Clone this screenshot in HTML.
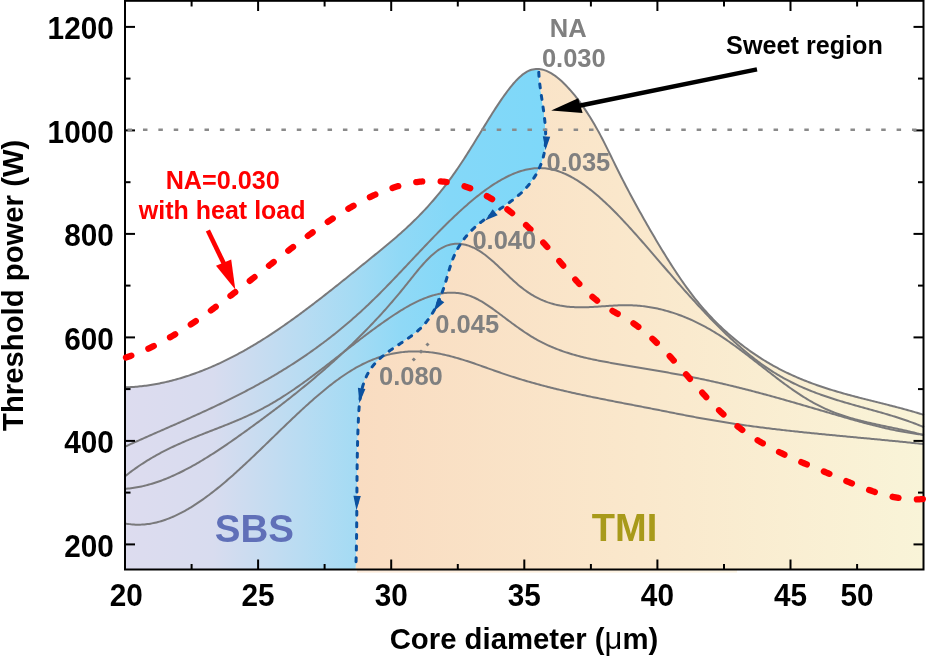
<!DOCTYPE html>
<html><head><meta charset="utf-8"><style>
html,body{margin:0;padding:0;background:#fff;}
svg{display:block;will-change:transform;}
text{font-family:"Liberation Sans",sans-serif;font-weight:bold;}
</style></head><body>
<svg width="926" height="656" viewBox="0 0 926 656">
<defs>
<linearGradient id="gS" gradientUnits="userSpaceOnUse" x1="125" y1="0" x2="545" y2="0">
<stop offset="0" stop-color="#dddcef"/><stop offset="0.21" stop-color="#d8dcef"/><stop offset="0.298" stop-color="#cbdcf0"/><stop offset="0.417" stop-color="#b9dcf2"/><stop offset="0.55" stop-color="#a4dbf4"/><stop offset="0.655" stop-color="#90d9f6"/><stop offset="0.774" stop-color="#84d8f8"/><stop offset="1" stop-color="#7ed8f9"/>
</linearGradient>
<linearGradient id="gT" gradientUnits="userSpaceOnUse" x1="356" y1="0" x2="924" y2="0">
<stop offset="0" stop-color="#f9dcc1"/><stop offset="0.5" stop-color="#fae8cc"/><stop offset="1" stop-color="#f9f4d8"/>
</linearGradient>
</defs>
<rect width="926" height="656" fill="#fff"/>
<path d="M125.00,387.35 126.50,387.30 128.00,387.24 129.50,387.17 131.00,387.09 132.50,387.00 134.00,386.89 135.50,386.78 137.00,386.65 138.50,386.51 140.00,386.36 141.50,386.20 143.00,386.02 144.50,385.84 146.00,385.65 147.50,385.44 149.00,385.22 150.50,384.99 152.00,384.75 153.50,384.50 155.00,384.24 156.50,383.97 158.00,383.69 159.50,383.40 161.00,383.09 162.50,382.78 164.00,382.45 165.50,382.12 167.00,381.77 168.50,381.41 170.00,381.05 171.50,380.67 173.00,380.28 174.50,379.88 176.00,379.47 177.50,379.05 179.00,378.62 180.50,378.18 182.00,377.73 183.50,377.27 185.00,376.80 186.50,376.32 188.00,375.83 189.50,375.33 191.00,374.82 192.50,374.30 194.00,373.77 195.50,373.23 197.00,372.68 198.50,372.12 200.00,371.56 201.50,370.98 203.00,370.39 204.50,369.79 206.00,369.18 207.50,368.57 209.00,367.94 210.50,367.31 212.00,366.66 213.50,366.01 215.00,365.34 216.50,364.67 218.00,363.99 219.50,363.30 221.00,362.59 222.50,361.88 224.00,361.17 225.50,360.44 227.00,359.70 228.50,358.96 230.00,358.20 231.50,357.44 233.00,356.66 234.50,355.88 236.00,355.09 237.50,354.29 239.00,353.49 240.50,352.67 242.00,351.85 243.50,351.01 245.00,350.17 246.50,349.32 248.00,348.46 249.50,347.59 251.00,346.72 252.50,345.83 254.00,344.94 255.50,344.04 257.00,343.13 258.50,342.22 260.00,341.29 261.50,340.36 263.00,339.42 264.50,338.47 266.00,337.51 267.50,336.55 269.00,335.57 270.50,334.59 272.00,333.61 273.50,332.61 275.00,331.61 276.50,330.60 278.00,329.59 279.50,328.57 281.00,327.54 282.50,326.50 284.00,325.46 285.50,324.41 287.00,323.36 288.50,322.30 290.00,321.23 291.50,320.16 293.00,319.08 294.50,318.00 296.00,316.91 297.50,315.82 299.00,314.72 300.50,313.61 302.00,312.50 303.50,311.39 305.00,310.27 306.50,309.14 308.00,308.02 309.50,306.88 311.00,305.75 312.50,304.60 314.00,303.46 315.50,302.31 317.00,301.16 318.50,300.00 320.00,298.84 321.50,297.67 323.00,296.51 324.50,295.34 326.00,294.16 327.50,292.98 329.00,291.80 330.50,290.62 332.00,289.44 333.50,288.25 335.00,287.06 336.50,285.87 338.00,284.67 339.50,283.47 341.00,282.27 342.50,281.07 344.00,279.87 345.50,278.66 347.00,277.46 348.50,276.25 350.00,275.04 351.50,273.83 353.00,272.62 354.50,271.41 356.00,270.20 357.50,268.98 359.00,267.77 360.50,266.55 362.00,265.34 363.50,264.12 365.00,262.91 366.50,261.69 368.00,260.48 369.50,259.26 371.00,258.05 372.50,256.83 374.00,255.62 375.50,254.40 377.00,253.18 378.50,251.96 380.00,250.74 381.50,249.51 383.00,248.28 384.50,247.04 386.00,245.80 387.50,244.55 389.00,243.29 390.50,242.03 392.00,240.76 393.50,239.48 395.00,238.19 396.50,236.90 398.00,235.59 399.50,234.27 401.00,232.94 402.50,231.59 404.00,230.24 405.50,228.87 407.00,227.49 408.50,226.09 410.00,224.68 411.50,223.25 413.00,221.80 414.50,220.34 416.00,218.86 417.50,217.36 419.00,215.85 420.50,214.31 422.00,212.76 423.50,211.18 425.00,209.58 426.50,207.96 428.00,206.32 429.50,204.65 431.00,202.96 432.50,201.25 434.00,199.51 435.50,197.75 437.00,195.96 438.50,194.14 440.00,192.30 441.50,190.43 443.00,188.53 444.50,186.60 446.00,184.65 447.50,182.67 449.00,180.66 450.50,178.62 452.00,176.55 453.50,174.45 455.00,172.32 456.50,170.16 458.00,167.98 459.50,165.76 461.00,163.51 462.50,161.23 464.00,158.93 465.50,156.60 467.00,154.25 468.50,151.88 470.00,149.49 471.50,147.08 473.00,144.66 474.50,142.24 476.00,139.80 477.50,137.35 479.00,134.91 480.50,132.46 482.00,130.01 483.50,127.56 485.00,125.12 486.50,122.69 488.00,120.26 489.50,117.85 491.00,115.46 492.50,113.09 494.00,110.74 495.50,108.41 497.00,106.11 498.50,103.84 500.00,101.60 501.50,99.40 503.00,97.24 504.50,95.12 506.00,93.05 507.50,91.02 509.00,89.04 510.50,87.13 512.00,85.28 513.50,83.50 515.00,81.80 516.50,80.18 518.00,78.66 519.50,77.22 521.00,75.89 522.50,74.66 524.00,73.55 525.50,72.55 527.00,71.67 528.50,70.93 530.00,70.31 531.50,69.81 533.00,69.43 534.50,69.17 536.00,69.02 537.50,68.98 L538.70,69.74 538.73,71.08 538.79,72.43 538.85,73.80 538.94,75.18 539.04,76.58 539.15,77.98 539.28,79.40 539.42,80.82 539.58,82.26 539.74,83.71 539.91,85.17 540.10,86.63 540.29,88.11 540.49,89.59 540.70,91.08 540.91,92.58 541.13,94.09 541.35,95.60 541.58,97.12 541.81,98.64 542.04,100.17 542.27,101.70 542.50,103.24 542.72,104.78 542.95,106.33 543.17,107.87 543.39,109.43 543.61,110.98 543.82,112.53 544.02,114.09 544.21,115.64 544.40,117.20 544.58,118.76 544.75,120.31 544.90,121.87 545.05,123.42 545.18,124.97 545.30,126.52 545.40,128.07 545.49,129.61 545.56,131.15 545.62,132.69 545.66,134.22 545.67,135.75 545.67,137.27 545.65,138.78 545.61,140.29 545.54,141.80 545.45,143.29 545.34,144.78 545.20,146.26 545.03,147.73 544.84,149.19 544.62,150.64 544.37,152.09 544.10,153.52 543.79,154.94 543.45,156.35 543.09,157.75 542.69,159.14 542.27,160.52 541.82,161.89 541.34,163.25 540.83,164.59 540.29,165.92 539.73,167.24 539.14,168.55 538.53,169.85 537.89,171.13 537.22,172.40 536.53,173.66 535.81,174.91 535.07,176.14 534.30,177.36 533.51,178.57 532.70,179.76 531.86,180.94 531.00,182.11 530.11,183.26 529.20,184.40 528.27,185.52 527.32,186.63 526.35,187.73 525.35,188.81 524.34,189.88 523.30,190.93 522.24,191.96 521.16,192.98 520.06,193.99 518.95,194.98 517.81,195.96 516.66,196.92 515.49,197.87 514.30,198.81 513.10,199.74 511.89,200.65 510.66,201.56 509.43,202.46 508.18,203.36 506.92,204.24 505.66,205.12 504.39,206.00 503.11,206.87 501.82,207.74 500.53,208.60 499.24,209.47 497.95,210.33 496.65,211.20 495.36,212.06 494.06,212.93 492.77,213.80 491.48,214.67 490.19,215.55 488.91,216.44 487.63,217.33 486.36,218.22 485.10,219.13 483.85,220.04 482.61,220.96 481.38,221.90 480.17,222.84 478.97,223.80 477.79,224.76 476.62,225.75 475.47,226.74 474.34,227.76 473.23,228.79 472.14,229.83 471.07,230.90 470.03,231.98 469.01,233.07 468.01,234.18 467.03,235.31 466.07,236.45 465.14,237.61 464.23,238.78 463.34,239.97 462.48,241.17 461.64,242.38 460.82,243.60 460.02,244.84 459.25,246.08 458.50,247.34 457.77,248.61 457.07,249.89 456.39,251.18 455.73,252.48 455.10,253.78 454.49,255.10 453.91,256.42 453.34,257.75 452.81,259.09 452.29,260.44 451.79,261.79 451.32,263.15 450.86,264.51 450.41,265.87 449.98,267.25 449.55,268.62 449.14,270.00 448.73,271.38 448.33,272.77 447.93,274.16 447.53,275.54 447.13,276.93 446.73,278.33 446.32,279.72 445.91,281.11 445.48,282.50 445.05,283.89 444.61,285.28 444.16,286.67 443.70,288.05 443.23,289.43 442.75,290.81 442.26,292.19 441.76,293.56 441.24,294.92 440.71,296.28 440.17,297.64 439.62,298.99 439.04,300.33 438.46,301.66 437.86,302.99 437.24,304.31 436.60,305.62 435.95,306.92 435.28,308.21 434.60,309.49 433.89,310.76 433.16,312.02 432.42,313.26 431.65,314.50 430.87,315.72 430.06,316.93 429.23,318.12 428.38,319.30 427.50,320.47 426.61,321.62 425.68,322.76 424.74,323.88 423.77,324.98 422.77,326.07 421.75,327.13 420.70,328.19 419.62,329.22 418.51,330.23 417.38,331.23 416.23,332.20 415.05,333.17 413.85,334.12 412.64,335.05 411.40,335.98 410.15,336.89 408.89,337.80 407.61,338.69 406.32,339.58 405.03,340.46 403.72,341.34 402.41,342.22 401.10,343.09 399.78,343.96 398.46,344.83 397.15,345.70 395.83,346.58 394.53,347.45 393.22,348.34 391.93,349.23 390.64,350.12 389.37,351.03 388.11,351.94 386.86,352.86 385.63,353.79 384.41,354.74 383.22,355.70 382.05,356.67 380.90,357.65 379.77,358.65 378.68,359.66 377.61,360.69 376.57,361.73 375.56,362.79 374.58,363.87 373.64,364.97 372.73,366.09 371.86,367.22 371.03,368.38 370.23,369.55 369.47,370.75 368.74,371.96 368.05,373.18 367.38,374.43 366.75,375.69 366.15,376.96 365.57,378.25 365.03,379.56 364.52,380.87 364.03,382.21 363.57,383.55 363.13,384.91 362.72,386.28 362.34,387.66 361.98,389.05 361.64,390.46 361.32,391.87 361.03,393.29 360.76,394.72 360.50,396.16 360.27,397.61 360.05,399.07 359.85,400.53 359.67,402.00 359.50,403.48 359.35,404.96 359.21,406.45 359.08,407.94 358.97,409.44 358.86,410.94 358.77,412.44 358.68,413.94 358.60,415.45 358.52,416.96 358.45,418.47 358.38,419.98 358.31,421.49 358.25,423.01 358.18,424.52 358.12,426.03 358.06,427.55 358.01,429.06 357.95,430.57 357.90,432.09 357.85,433.60 357.80,435.12 357.75,436.63 357.71,438.15 357.67,439.66 357.62,441.18 357.58,442.70 357.55,444.21 357.51,445.73 357.47,447.24 357.44,448.76 357.41,450.28 357.38,451.79 357.35,453.31 357.32,454.83 357.29,456.34 357.26,457.86 357.24,459.38 357.22,460.89 357.19,462.41 357.17,463.93 357.15,465.44 357.13,466.96 357.12,468.48 357.10,469.99 357.08,471.51 357.07,473.02 357.05,474.54 357.04,476.05 357.02,477.57 357.01,479.08 357.00,480.60 356.99,482.11 356.97,483.63 356.96,485.14 356.95,486.65 356.94,488.17 356.93,489.68 356.92,491.19 356.92,492.70 356.91,494.22 356.90,495.73 356.89,497.24 356.88,498.75 356.87,500.26 356.86,501.77 356.86,503.27 356.85,504.78 356.84,506.29 356.83,507.80 356.82,509.30 356.81,510.81 356.80,512.31 356.79,513.82 356.78,515.32 356.77,516.82 356.76,518.33 356.75,519.83 356.74,521.33 356.72,522.83 356.71,524.33 356.70,525.83 356.68,527.32 356.67,528.82 356.65,530.32 356.63,531.81 356.61,533.31 356.59,534.80 356.57,536.29 356.55,537.78 356.53,539.27 356.51,540.76 356.48,542.25 356.46,543.74 356.43,545.23 356.40,546.71 356.37,548.20 356.34,549.68 356.31,551.16 356.28,552.64 356.24,554.12 356.21,555.60 356.17,557.08 356.13,558.56 356.09,560.03 356.04,561.51 356.00,562.98 355.95,564.45 355.90,565.92 355.85,567.39 355.80,568.86 355.79,569.29 L125,569.5 Z" fill="url(#gS)"/>
<path d="M539.00,69.05 540.50,69.22 542.00,69.50 543.50,69.87 545.00,70.35 546.50,70.91 548.00,71.57 549.50,72.32 551.00,73.15 552.50,74.06 554.00,75.05 555.50,76.12 557.00,77.26 558.50,78.47 560.00,79.75 561.50,81.10 563.00,82.51 564.50,83.97 566.00,85.50 567.50,87.07 569.00,88.70 570.50,90.38 572.00,92.12 573.50,93.90 575.00,95.74 576.50,97.63 578.00,99.58 579.50,101.57 581.00,103.63 582.50,105.73 584.00,107.89 585.50,110.11 587.00,112.38 588.50,114.71 590.00,117.09 591.50,119.53 593.00,122.03 594.50,124.59 596.00,127.20 597.50,129.87 599.00,132.60 600.50,135.38 602.00,138.23 603.50,141.13 605.00,144.09 606.50,147.09 608.00,150.13 609.50,153.19 611.00,156.27 612.50,159.35 614.00,162.43 615.50,165.49 617.00,168.53 618.50,171.54 620.00,174.52 621.50,177.48 623.00,180.41 624.50,183.31 626.00,186.19 627.50,189.04 629.00,191.88 630.50,194.69 632.00,197.48 633.50,200.24 635.00,203.00 636.50,205.73 638.00,208.44 639.50,211.14 641.00,213.82 642.50,216.49 644.00,219.14 645.50,221.78 647.00,224.41 648.50,227.02 650.00,229.63 651.50,232.22 653.00,234.79 654.50,237.36 656.00,239.90 657.50,242.44 659.00,244.95 660.50,247.45 662.00,249.93 663.50,252.39 665.00,254.83 666.50,257.25 668.00,259.65 669.50,262.03 671.00,264.38 672.50,266.72 674.00,269.03 675.50,271.31 677.00,273.58 678.50,275.81 680.00,278.02 681.50,280.20 683.00,282.36 684.50,284.48 686.00,286.58 687.50,288.64 689.00,290.68 690.50,292.69 692.00,294.66 693.50,296.60 695.00,298.51 696.50,300.38 698.00,302.23 699.50,304.04 701.00,305.83 702.50,307.58 704.00,309.30 705.50,311.00 707.00,312.67 708.50,314.31 710.00,315.93 711.50,317.52 713.00,319.08 714.50,320.62 716.00,322.13 717.50,323.62 719.00,325.09 720.50,326.54 722.00,327.96 723.50,329.36 725.00,330.74 726.50,332.10 728.00,333.44 729.50,334.76 731.00,336.06 732.50,337.35 734.00,338.61 735.50,339.85 737.00,341.08 738.50,342.29 740.00,343.48 741.50,344.65 743.00,345.81 744.50,346.95 746.00,348.07 747.50,349.17 749.00,350.26 750.50,351.33 752.00,352.38 753.50,353.42 755.00,354.44 756.50,355.45 758.00,356.44 759.50,357.41 761.00,358.37 762.50,359.32 764.00,360.25 765.50,361.16 767.00,362.07 768.50,362.95 770.00,363.82 771.50,364.68 773.00,365.53 774.50,366.36 776.00,367.18 777.50,367.98 779.00,368.77 780.50,369.55 782.00,370.32 783.50,371.08 785.00,371.82 786.50,372.55 788.00,373.27 789.50,373.98 791.00,374.67 792.50,375.36 794.00,376.03 795.50,376.69 797.00,377.35 798.50,377.99 800.00,378.62 801.50,379.24 803.00,379.86 804.50,380.46 806.00,381.05 807.50,381.64 809.00,382.21 810.50,382.78 812.00,383.34 813.50,383.89 815.00,384.43 816.50,384.97 818.00,385.49 819.50,386.01 821.00,386.52 822.50,387.02 824.00,387.52 825.50,388.01 827.00,388.49 828.50,388.97 830.00,389.44 831.50,389.91 833.00,390.37 834.50,390.82 836.00,391.27 837.50,391.71 839.00,392.15 840.50,392.58 842.00,393.01 843.50,393.43 845.00,393.85 846.50,394.27 848.00,394.68 849.50,395.08 851.00,395.49 852.50,395.89 854.00,396.29 855.50,396.68 857.00,397.07 858.50,397.46 860.00,397.85 861.50,398.24 863.00,398.62 864.50,399.00 866.00,399.38 867.50,399.76 869.00,400.14 870.50,400.51 872.00,400.89 873.50,401.26 875.00,401.64 876.50,402.01 878.00,402.39 879.50,402.76 881.00,403.14 882.50,403.51 884.00,403.89 885.50,404.27 887.00,404.65 888.50,405.03 890.00,405.41 891.50,405.80 893.00,406.18 894.50,406.57 896.00,406.96 897.50,407.35 899.00,407.75 900.50,408.15 902.00,408.55 903.50,408.96 905.00,409.36 906.50,409.78 908.00,410.19 909.50,410.61 911.00,411.04 912.50,411.47 914.00,411.90 915.50,412.34 917.00,412.79 918.50,413.24 920.00,413.69 921.50,414.15 923.00,414.62 924.00,414.94 L924,569.5 L355.79,569.29 355.80,568.86 355.85,567.39 355.90,565.92 355.95,564.45 356.00,562.98 356.04,561.51 356.09,560.03 356.13,558.56 356.17,557.08 356.21,555.60 356.24,554.12 356.28,552.64 356.31,551.16 356.34,549.68 356.37,548.20 356.40,546.71 356.43,545.23 356.46,543.74 356.48,542.25 356.51,540.76 356.53,539.27 356.55,537.78 356.57,536.29 356.59,534.80 356.61,533.31 356.63,531.81 356.65,530.32 356.67,528.82 356.68,527.32 356.70,525.83 356.71,524.33 356.72,522.83 356.74,521.33 356.75,519.83 356.76,518.33 356.77,516.82 356.78,515.32 356.79,513.82 356.80,512.31 356.81,510.81 356.82,509.30 356.83,507.80 356.84,506.29 356.85,504.78 356.86,503.27 356.86,501.77 356.87,500.26 356.88,498.75 356.89,497.24 356.90,495.73 356.91,494.22 356.92,492.70 356.92,491.19 356.93,489.68 356.94,488.17 356.95,486.65 356.96,485.14 356.97,483.63 356.99,482.11 357.00,480.60 357.01,479.08 357.02,477.57 357.04,476.05 357.05,474.54 357.07,473.02 357.08,471.51 357.10,469.99 357.12,468.48 357.13,466.96 357.15,465.44 357.17,463.93 357.19,462.41 357.22,460.89 357.24,459.38 357.26,457.86 357.29,456.34 357.32,454.83 357.35,453.31 357.38,451.79 357.41,450.28 357.44,448.76 357.47,447.24 357.51,445.73 357.55,444.21 357.58,442.70 357.62,441.18 357.67,439.66 357.71,438.15 357.75,436.63 357.80,435.12 357.85,433.60 357.90,432.09 357.95,430.57 358.01,429.06 358.06,427.55 358.12,426.03 358.18,424.52 358.25,423.01 358.31,421.49 358.38,419.98 358.45,418.47 358.52,416.96 358.60,415.45 358.68,413.94 358.77,412.44 358.86,410.94 358.97,409.44 359.08,407.94 359.21,406.45 359.35,404.96 359.50,403.48 359.67,402.00 359.85,400.53 360.05,399.07 360.27,397.61 360.50,396.16 360.76,394.72 361.03,393.29 361.32,391.87 361.64,390.46 361.98,389.05 362.34,387.66 362.72,386.28 363.13,384.91 363.57,383.55 364.03,382.21 364.52,380.87 365.03,379.56 365.57,378.25 366.15,376.96 366.75,375.69 367.38,374.43 368.05,373.18 368.74,371.96 369.47,370.75 370.23,369.55 371.03,368.38 371.86,367.22 372.73,366.09 373.64,364.97 374.58,363.87 375.56,362.79 376.57,361.73 377.61,360.69 378.68,359.66 379.77,358.65 380.90,357.65 382.05,356.67 383.22,355.70 384.41,354.74 385.63,353.79 386.86,352.86 388.11,351.94 389.37,351.03 390.64,350.12 391.93,349.23 393.22,348.34 394.53,347.45 395.83,346.58 397.15,345.70 398.46,344.83 399.78,343.96 401.10,343.09 402.41,342.22 403.72,341.34 405.03,340.46 406.32,339.58 407.61,338.69 408.89,337.80 410.15,336.89 411.40,335.98 412.64,335.05 413.85,334.12 415.05,333.17 416.23,332.20 417.38,331.23 418.51,330.23 419.62,329.22 420.70,328.19 421.75,327.13 422.77,326.07 423.77,324.98 424.74,323.88 425.68,322.76 426.61,321.62 427.50,320.47 428.38,319.30 429.23,318.12 430.06,316.93 430.87,315.72 431.65,314.50 432.42,313.26 433.16,312.02 433.89,310.76 434.60,309.49 435.28,308.21 435.95,306.92 436.60,305.62 437.24,304.31 437.86,302.99 438.46,301.66 439.04,300.33 439.62,298.99 440.17,297.64 440.71,296.28 441.24,294.92 441.76,293.56 442.26,292.19 442.75,290.81 443.23,289.43 443.70,288.05 444.16,286.67 444.61,285.28 445.05,283.89 445.48,282.50 445.91,281.11 446.32,279.72 446.73,278.33 447.13,276.93 447.53,275.54 447.93,274.16 448.33,272.77 448.73,271.38 449.14,270.00 449.55,268.62 449.98,267.25 450.41,265.87 450.86,264.51 451.32,263.15 451.79,261.79 452.29,260.44 452.81,259.09 453.34,257.75 453.91,256.42 454.49,255.10 455.10,253.78 455.73,252.48 456.39,251.18 457.07,249.89 457.77,248.61 458.50,247.34 459.25,246.08 460.02,244.84 460.82,243.60 461.64,242.38 462.48,241.17 463.34,239.97 464.23,238.78 465.14,237.61 466.07,236.45 467.03,235.31 468.01,234.18 469.01,233.07 470.03,231.98 471.07,230.90 472.14,229.83 473.23,228.79 474.34,227.76 475.47,226.74 476.62,225.75 477.79,224.76 478.97,223.80 480.17,222.84 481.38,221.90 482.61,220.96 483.85,220.04 485.10,219.13 486.36,218.22 487.63,217.33 488.91,216.44 490.19,215.55 491.48,214.67 492.77,213.80 494.06,212.93 495.36,212.06 496.65,211.20 497.95,210.33 499.24,209.47 500.53,208.60 501.82,207.74 503.11,206.87 504.39,206.00 505.66,205.12 506.92,204.24 508.18,203.36 509.43,202.46 510.66,201.56 511.89,200.65 513.10,199.74 514.30,198.81 515.49,197.87 516.66,196.92 517.81,195.96 518.95,194.98 520.06,193.99 521.16,192.98 522.24,191.96 523.30,190.93 524.34,189.88 525.35,188.81 526.35,187.73 527.32,186.63 528.27,185.52 529.20,184.40 530.11,183.26 531.00,182.11 531.86,180.94 532.70,179.76 533.51,178.57 534.30,177.36 535.07,176.14 535.81,174.91 536.53,173.66 537.22,172.40 537.89,171.13 538.53,169.85 539.14,168.55 539.73,167.24 540.29,165.92 540.83,164.59 541.34,163.25 541.82,161.89 542.27,160.52 542.69,159.14 543.09,157.75 543.45,156.35 543.79,154.94 544.10,153.52 544.37,152.09 544.62,150.64 544.84,149.19 545.03,147.73 545.20,146.26 545.34,144.78 545.45,143.29 545.54,141.80 545.61,140.29 545.65,138.78 545.67,137.27 545.67,135.75 545.66,134.22 545.62,132.69 545.56,131.15 545.49,129.61 545.40,128.07 545.30,126.52 545.18,124.97 545.05,123.42 544.90,121.87 544.75,120.31 544.58,118.76 544.40,117.20 544.21,115.64 544.02,114.09 543.82,112.53 543.61,110.98 543.39,109.43 543.17,107.87 542.95,106.33 542.72,104.78 542.50,103.24 542.27,101.70 542.04,100.17 541.81,98.64 541.58,97.12 541.35,95.60 541.13,94.09 540.91,92.58 540.70,91.08 540.49,89.59 540.29,88.11 540.10,86.63 539.91,85.17 539.74,83.71 539.58,82.26 539.42,80.82 539.28,79.40 539.15,77.98 539.04,76.58 538.94,75.18 538.85,73.80 538.79,72.43 538.73,71.08 538.70,69.74 Z" fill="url(#gT)"/>
<rect x="357" y="570" width="380" height="2.6" fill="url(#gT)" opacity="0.6"/>
<g fill="none" stroke="#79797b" stroke-width="2"><path d="M125.00,387.35 126.50,387.30 128.00,387.24 129.50,387.17 131.00,387.09 132.50,387.00 134.00,386.89 135.50,386.78 137.00,386.65 138.50,386.51 140.00,386.36 141.50,386.20 143.00,386.02 144.50,385.84 146.00,385.65 147.50,385.44 149.00,385.22 150.50,384.99 152.00,384.75 153.50,384.50 155.00,384.24 156.50,383.97 158.00,383.69 159.50,383.40 161.00,383.09 162.50,382.78 164.00,382.45 165.50,382.12 167.00,381.77 168.50,381.41 170.00,381.05 171.50,380.67 173.00,380.28 174.50,379.88 176.00,379.47 177.50,379.05 179.00,378.62 180.50,378.18 182.00,377.73 183.50,377.27 185.00,376.80 186.50,376.32 188.00,375.83 189.50,375.33 191.00,374.82 192.50,374.30 194.00,373.77 195.50,373.23 197.00,372.68 198.50,372.12 200.00,371.56 201.50,370.98 203.00,370.39 204.50,369.79 206.00,369.18 207.50,368.57 209.00,367.94 210.50,367.31 212.00,366.66 213.50,366.01 215.00,365.34 216.50,364.67 218.00,363.99 219.50,363.30 221.00,362.59 222.50,361.88 224.00,361.17 225.50,360.44 227.00,359.70 228.50,358.96 230.00,358.20 231.50,357.44 233.00,356.66 234.50,355.88 236.00,355.09 237.50,354.29 239.00,353.49 240.50,352.67 242.00,351.85 243.50,351.01 245.00,350.17 246.50,349.32 248.00,348.46 249.50,347.59 251.00,346.72 252.50,345.83 254.00,344.94 255.50,344.04 257.00,343.13 258.50,342.22 260.00,341.29 261.50,340.36 263.00,339.42 264.50,338.47 266.00,337.51 267.50,336.55 269.00,335.57 270.50,334.59 272.00,333.61 273.50,332.61 275.00,331.61 276.50,330.60 278.00,329.59 279.50,328.57 281.00,327.54 282.50,326.50 284.00,325.46 285.50,324.41 287.00,323.36 288.50,322.30 290.00,321.23 291.50,320.16 293.00,319.08 294.50,318.00 296.00,316.91 297.50,315.82 299.00,314.72 300.50,313.61 302.00,312.50 303.50,311.39 305.00,310.27 306.50,309.14 308.00,308.02 309.50,306.88 311.00,305.75 312.50,304.60 314.00,303.46 315.50,302.31 317.00,301.16 318.50,300.00 320.00,298.84 321.50,297.67 323.00,296.51 324.50,295.34 326.00,294.16 327.50,292.98 329.00,291.80 330.50,290.62 332.00,289.44 333.50,288.25 335.00,287.06 336.50,285.87 338.00,284.67 339.50,283.47 341.00,282.27 342.50,281.07 344.00,279.87 345.50,278.66 347.00,277.46 348.50,276.25 350.00,275.04 351.50,273.83 353.00,272.62 354.50,271.41 356.00,270.20 357.50,268.98 359.00,267.77 360.50,266.55 362.00,265.34 363.50,264.12 365.00,262.91 366.50,261.69 368.00,260.48 369.50,259.26 371.00,258.05 372.50,256.83 374.00,255.62 375.50,254.40 377.00,253.18 378.50,251.96 380.00,250.74 381.50,249.51 383.00,248.28 384.50,247.04 386.00,245.80 387.50,244.55 389.00,243.29 390.50,242.03 392.00,240.76 393.50,239.48 395.00,238.19 396.50,236.90 398.00,235.59 399.50,234.27 401.00,232.94 402.50,231.59 404.00,230.24 405.50,228.87 407.00,227.49 408.50,226.09 410.00,224.68 411.50,223.25 413.00,221.80 414.50,220.34 416.00,218.86 417.50,217.36 419.00,215.85 420.50,214.31 422.00,212.76 423.50,211.18 425.00,209.58 426.50,207.96 428.00,206.32 429.50,204.65 431.00,202.96 432.50,201.25 434.00,199.51 435.50,197.75 437.00,195.96 438.50,194.14 440.00,192.30 441.50,190.43 443.00,188.53 444.50,186.60 446.00,184.65 447.50,182.67 449.00,180.66 450.50,178.62 452.00,176.55 453.50,174.45 455.00,172.32 456.50,170.16 458.00,167.98 459.50,165.76 461.00,163.51 462.50,161.23 464.00,158.93 465.50,156.60 467.00,154.25 468.50,151.88 470.00,149.49 471.50,147.08 473.00,144.66 474.50,142.24 476.00,139.80 477.50,137.35 479.00,134.91 480.50,132.46 482.00,130.01 483.50,127.56 485.00,125.12 486.50,122.69 488.00,120.26 489.50,117.85 491.00,115.46 492.50,113.09 494.00,110.74 495.50,108.41 497.00,106.11 498.50,103.84 500.00,101.60 501.50,99.40 503.00,97.24 504.50,95.12 506.00,93.05 507.50,91.02 509.00,89.04 510.50,87.13 512.00,85.28 513.50,83.50 515.00,81.80 516.50,80.18 518.00,78.66 519.50,77.22 521.00,75.89 522.50,74.66 524.00,73.55 525.50,72.55 527.00,71.67 528.50,70.93 530.00,70.31 531.50,69.81 533.00,69.43 534.50,69.17 536.00,69.02 537.50,68.98 539.00,69.05 540.50,69.22 542.00,69.50 543.50,69.87 545.00,70.35 546.50,70.91 548.00,71.57 549.50,72.32 551.00,73.15 552.50,74.06 554.00,75.05 555.50,76.12 557.00,77.26 558.50,78.47 560.00,79.75 561.50,81.10 563.00,82.51 564.50,83.97 566.00,85.50 567.50,87.07 569.00,88.70 570.50,90.38 572.00,92.12 573.50,93.90 575.00,95.74 576.50,97.63 578.00,99.58 579.50,101.57 581.00,103.63 582.50,105.73 584.00,107.89 585.50,110.11 587.00,112.38 588.50,114.71 590.00,117.09 591.50,119.53 593.00,122.03 594.50,124.59 596.00,127.20 597.50,129.87 599.00,132.60 600.50,135.38 602.00,138.23 603.50,141.13 605.00,144.09 606.50,147.09 608.00,150.13 609.50,153.19 611.00,156.27 612.50,159.35 614.00,162.43 615.50,165.49 617.00,168.53 618.50,171.54 620.00,174.52 621.50,177.48 623.00,180.41 624.50,183.31 626.00,186.19 627.50,189.04 629.00,191.88 630.50,194.69 632.00,197.48 633.50,200.24 635.00,203.00 636.50,205.73 638.00,208.44 639.50,211.14 641.00,213.82 642.50,216.49 644.00,219.14 645.50,221.78 647.00,224.41 648.50,227.02 650.00,229.63 651.50,232.22 653.00,234.79 654.50,237.36 656.00,239.90 657.50,242.44 659.00,244.95 660.50,247.45 662.00,249.93 663.50,252.39 665.00,254.83 666.50,257.25 668.00,259.65 669.50,262.03 671.00,264.38 672.50,266.72 674.00,269.03 675.50,271.31 677.00,273.58 678.50,275.81 680.00,278.02 681.50,280.20 683.00,282.36 684.50,284.48 686.00,286.58 687.50,288.64 689.00,290.68 690.50,292.69 692.00,294.66 693.50,296.60 695.00,298.51 696.50,300.38 698.00,302.23 699.50,304.04 701.00,305.83 702.50,307.58 704.00,309.30 705.50,311.00 707.00,312.67 708.50,314.31 710.00,315.93 711.50,317.52 713.00,319.08 714.50,320.62 716.00,322.13 717.50,323.62 719.00,325.09 720.50,326.54 722.00,327.96 723.50,329.36 725.00,330.74 726.50,332.10 728.00,333.44 729.50,334.76 731.00,336.06 732.50,337.35 734.00,338.61 735.50,339.85 737.00,341.08 738.50,342.29 740.00,343.48 741.50,344.65 743.00,345.81 744.50,346.95 746.00,348.07 747.50,349.17 749.00,350.26 750.50,351.33 752.00,352.38 753.50,353.42 755.00,354.44 756.50,355.45 758.00,356.44 759.50,357.41 761.00,358.37 762.50,359.32 764.00,360.25 765.50,361.16 767.00,362.07 768.50,362.95 770.00,363.82 771.50,364.68 773.00,365.53 774.50,366.36 776.00,367.18 777.50,367.98 779.00,368.77 780.50,369.55 782.00,370.32 783.50,371.08 785.00,371.82 786.50,372.55 788.00,373.27 789.50,373.98 791.00,374.67 792.50,375.36 794.00,376.03 795.50,376.69 797.00,377.35 798.50,377.99 800.00,378.62 801.50,379.24 803.00,379.86 804.50,380.46 806.00,381.05 807.50,381.64 809.00,382.21 810.50,382.78 812.00,383.34 813.50,383.89 815.00,384.43 816.50,384.97 818.00,385.49 819.50,386.01 821.00,386.52 822.50,387.02 824.00,387.52 825.50,388.01 827.00,388.49 828.50,388.97 830.00,389.44 831.50,389.91 833.00,390.37 834.50,390.82 836.00,391.27 837.50,391.71 839.00,392.15 840.50,392.58 842.00,393.01 843.50,393.43 845.00,393.85 846.50,394.27 848.00,394.68 849.50,395.08 851.00,395.49 852.50,395.89 854.00,396.29 855.50,396.68 857.00,397.07 858.50,397.46 860.00,397.85 861.50,398.24 863.00,398.62 864.50,399.00 866.00,399.38 867.50,399.76 869.00,400.14 870.50,400.51 872.00,400.89 873.50,401.26 875.00,401.64 876.50,402.01 878.00,402.39 879.50,402.76 881.00,403.14 882.50,403.51 884.00,403.89 885.50,404.27 887.00,404.65 888.50,405.03 890.00,405.41 891.50,405.80 893.00,406.18 894.50,406.57 896.00,406.96 897.50,407.35 899.00,407.75 900.50,408.15 902.00,408.55 903.50,408.96 905.00,409.36 906.50,409.78 908.00,410.19 909.50,410.61 911.00,411.04 912.50,411.47 914.00,411.90 915.50,412.34 917.00,412.79 918.50,413.24 920.00,413.69 921.50,414.15 923.00,414.62 924.00,414.94"/><path d="M125.00,446.65 126.50,445.97 128.00,445.29 129.50,444.61 131.00,443.93 132.50,443.26 134.00,442.58 135.50,441.91 137.00,441.24 138.50,440.57 140.00,439.90 141.50,439.23 143.00,438.57 144.50,437.90 146.00,437.24 147.50,436.58 149.00,435.91 150.50,435.25 152.00,434.59 153.50,433.93 155.00,433.27 156.50,432.61 158.00,431.95 159.50,431.30 161.00,430.64 162.50,429.98 164.00,429.32 165.50,428.66 167.00,428.00 168.50,427.35 170.00,426.69 171.50,426.03 173.00,425.37 174.50,424.71 176.00,424.05 177.50,423.38 179.00,422.72 180.50,422.06 182.00,421.39 183.50,420.73 185.00,420.06 186.50,419.39 188.00,418.73 189.50,418.06 191.00,417.38 192.50,416.71 194.00,416.03 195.50,415.36 197.00,414.68 198.50,414.00 200.00,413.32 201.50,412.63 203.00,411.95 204.50,411.26 206.00,410.57 207.50,409.87 209.00,409.18 210.50,408.48 212.00,407.78 213.50,407.07 215.00,406.37 216.50,405.66 218.00,404.95 219.50,404.23 221.00,403.51 222.50,402.79 224.00,402.07 225.50,401.34 227.00,400.61 228.50,399.87 230.00,399.13 231.50,398.39 233.00,397.65 234.50,396.90 236.00,396.14 237.50,395.39 239.00,394.62 240.50,393.86 242.00,393.09 243.50,392.31 245.00,391.54 246.50,390.75 248.00,389.96 249.50,389.17 251.00,388.37 252.50,387.57 254.00,386.77 255.50,385.95 257.00,385.14 258.50,384.31 260.00,383.49 261.50,382.66 263.00,381.82 264.50,380.97 266.00,380.12 267.50,379.27 269.00,378.41 270.50,377.54 272.00,376.67 273.50,375.79 275.00,374.91 276.50,374.02 278.00,373.12 279.50,372.22 281.00,371.31 282.50,370.40 284.00,369.47 285.50,368.55 287.00,367.61 288.50,366.67 290.00,365.72 291.50,364.76 293.00,363.80 294.50,362.83 296.00,361.86 297.50,360.87 299.00,359.88 300.50,358.88 302.00,357.87 303.50,356.86 305.00,355.84 306.50,354.81 308.00,353.77 309.50,352.73 311.00,351.67 312.50,350.61 314.00,349.54 315.50,348.46 317.00,347.38 318.50,346.28 320.00,345.18 321.50,344.07 323.00,342.95 324.50,341.82 326.00,340.68 327.50,339.53 329.00,338.38 330.50,337.21 332.00,336.04 333.50,334.86 335.00,333.66 336.50,332.46 338.00,331.25 339.50,330.03 341.00,328.80 342.50,327.56 344.00,326.31 345.50,325.05 347.00,323.78 348.50,322.50 350.00,321.21 351.50,319.91 353.00,318.60 354.50,317.28 356.00,315.95 357.50,314.60 359.00,313.25 360.50,311.89 362.00,310.51 363.50,309.13 365.00,307.73 366.50,306.33 368.00,304.91 369.50,303.48 371.00,302.04 372.50,300.59 374.00,299.13 375.50,297.65 377.00,296.17 378.50,294.68 380.00,293.18 381.50,291.67 383.00,290.15 384.50,288.63 386.00,287.10 387.50,285.56 389.00,284.01 390.50,282.46 392.00,280.90 393.50,279.34 395.00,277.77 396.50,276.20 398.00,274.63 399.50,273.05 401.00,271.46 402.50,269.88 404.00,268.29 405.50,266.70 407.00,265.11 408.50,263.52 410.00,261.92 411.50,260.33 413.00,258.74 414.50,257.14 416.00,255.55 417.50,253.96 419.00,252.37 420.50,250.78 422.00,249.20 423.50,247.62 425.00,246.04 426.50,244.47 428.00,242.90 429.50,241.33 431.00,239.77 432.50,238.21 434.00,236.66 435.50,235.12 437.00,233.58 438.50,232.06 440.00,230.53 441.50,229.02 443.00,227.51 444.50,226.02 446.00,224.53 447.50,223.05 449.00,221.58 450.50,220.12 452.00,218.68 453.50,217.24 455.00,215.82 456.50,214.40 458.00,213.00 459.50,211.62 461.00,210.24 462.50,208.88 464.00,207.54 465.50,206.20 467.00,204.89 468.50,203.59 470.00,202.30 471.50,201.03 473.00,199.78 474.50,198.54 476.00,197.32 477.50,196.12 479.00,194.94 480.50,193.77 482.00,192.63 483.50,191.50 485.00,190.39 486.50,189.31 488.00,188.24 489.50,187.20 491.00,186.17 492.50,185.17 494.00,184.20 495.50,183.24 497.00,182.31 498.50,181.40 500.00,180.52 501.50,179.66 503.00,178.83 504.50,178.02 506.00,177.24 507.50,176.49 509.00,175.77 510.50,175.08 512.00,174.41 513.50,173.78 515.00,173.17 516.50,172.60 518.00,172.06 519.50,171.55 521.00,171.07 522.50,170.63 524.00,170.22 525.50,169.84 527.00,169.50 528.50,169.19 530.00,168.92 531.50,168.69 533.00,168.50 534.50,168.34 536.00,168.22 537.50,168.14 539.00,168.10 540.50,168.09 542.00,168.13 543.50,168.21 545.00,168.33 546.50,168.50 548.00,168.71 549.50,168.95 551.00,169.24 552.50,169.57 554.00,169.94 555.50,170.35 557.00,170.80 558.50,171.29 560.00,171.82 561.50,172.38 563.00,172.98 564.50,173.61 566.00,174.28 567.50,174.99 569.00,175.73 570.50,176.50 572.00,177.31 573.50,178.15 575.00,179.02 576.50,179.92 578.00,180.86 579.50,181.82 581.00,182.81 582.50,183.84 584.00,184.89 585.50,185.97 587.00,187.07 588.50,188.21 590.00,189.37 591.50,190.55 593.00,191.76 594.50,193.00 596.00,194.26 597.50,195.54 599.00,196.84 600.50,198.17 602.00,199.52 603.50,200.89 605.00,202.28 606.50,203.69 608.00,205.12 609.50,206.57 611.00,208.03 612.50,209.52 614.00,211.02 615.50,212.54 617.00,214.07 618.50,215.62 620.00,217.18 621.50,218.76 623.00,220.35 624.50,221.95 626.00,223.57 627.50,225.19 629.00,226.83 630.50,228.48 632.00,230.14 633.50,231.81 635.00,233.49 636.50,235.18 638.00,236.87 639.50,238.57 641.00,240.28 642.50,241.99 644.00,243.71 645.50,245.43 647.00,247.16 648.50,248.89 650.00,250.63 651.50,252.36 653.00,254.10 654.50,255.84 656.00,257.59 657.50,259.33 659.00,261.07 660.50,262.81 662.00,264.55 663.50,266.28 665.00,268.02 666.50,269.75 668.00,271.48 669.50,273.21 671.00,274.94 672.50,276.66 674.00,278.38 675.50,280.09 677.00,281.80 678.50,283.51 680.00,285.21 681.50,286.91 683.00,288.60 684.50,290.29 686.00,291.97 687.50,293.65 689.00,295.32 690.50,296.98 692.00,298.64 693.50,300.29 695.00,301.94 696.50,303.58 698.00,305.21 699.50,306.83 701.00,308.44 702.50,310.05 704.00,311.65 705.50,313.24 707.00,314.82 708.50,316.39 710.00,317.95 711.50,319.50 713.00,321.05 714.50,322.58 716.00,324.10 717.50,325.61 719.00,327.11 720.50,328.60 722.00,330.08 723.50,331.55 725.00,333.00 726.50,334.45 728.00,335.88 729.50,337.30 731.00,338.70 732.50,340.09 734.00,341.47 735.50,342.84 737.00,344.19 738.50,345.52 740.00,346.85 741.50,348.16 743.00,349.45 744.50,350.73 746.00,351.99 747.50,353.24 749.00,354.47 750.50,355.69 752.00,356.89 753.50,358.07 755.00,359.23 756.50,360.38 758.00,361.52 759.50,362.63 761.00,363.73 762.50,364.80 764.00,365.86 765.50,366.91 767.00,367.93 768.50,368.93 770.00,369.92 771.50,370.89 773.00,371.84 774.50,372.77 776.00,373.69 777.50,374.59 779.00,375.48 780.50,376.34 782.00,377.20 783.50,378.03 785.00,378.85 786.50,379.66 788.00,380.45 789.50,381.23 791.00,381.99 792.50,382.74 794.00,383.48 795.50,384.20 797.00,384.91 798.50,385.61 800.00,386.29 801.50,386.96 803.00,387.62 804.50,388.27 806.00,388.91 807.50,389.54 809.00,390.15 810.50,390.76 812.00,391.35 813.50,391.94 815.00,392.51 816.50,393.08 818.00,393.64 819.50,394.18 821.00,394.72 822.50,395.26 824.00,395.78 825.50,396.30 827.00,396.80 828.50,397.30 830.00,397.80 831.50,398.29 833.00,398.77 834.50,399.24 836.00,399.71 837.50,400.18 839.00,400.64 840.50,401.09 842.00,401.54 843.50,401.99 845.00,402.43 846.50,402.87 848.00,403.30 849.50,403.73 851.00,404.16 852.50,404.59 854.00,405.01 855.50,405.43 857.00,405.85 858.50,406.27 860.00,406.69 861.50,407.10 863.00,407.52 864.50,407.93 866.00,408.35 867.50,408.76 869.00,409.18 870.50,409.59 872.00,410.01 873.50,410.43 875.00,410.85 876.50,411.27 878.00,411.69 879.50,412.12 881.00,412.55 882.50,412.98 884.00,413.41 885.50,413.85 887.00,414.29 888.50,414.74 890.00,415.19 891.50,415.65 893.00,416.11 894.50,416.57 896.00,417.05 897.50,417.52 899.00,418.01 900.50,418.50 902.00,418.99 903.50,419.49 905.00,420.00 906.50,420.52 908.00,421.05 909.50,421.58 911.00,422.12 912.50,422.67 914.00,423.23 915.50,423.80 917.00,424.38 918.50,424.97 920.00,425.56 921.50,426.17 923.00,426.79 924.00,427.21"/><path d="M125.00,488.87 126.50,488.76 128.00,488.62 129.50,488.46 131.00,488.27 132.50,488.07 134.00,487.85 135.50,487.61 137.00,487.35 138.50,487.07 140.00,486.77 141.50,486.45 143.00,486.11 144.50,485.76 146.00,485.38 147.50,484.99 149.00,484.58 150.50,484.15 152.00,483.71 153.50,483.25 155.00,482.77 156.50,482.27 158.00,481.76 159.50,481.23 161.00,480.69 162.50,480.13 164.00,479.55 165.50,478.96 167.00,478.35 168.50,477.73 170.00,477.09 171.50,476.44 173.00,475.78 174.50,475.10 176.00,474.41 177.50,473.70 179.00,472.98 180.50,472.25 182.00,471.50 183.50,470.75 185.00,469.98 186.50,469.19 188.00,468.40 189.50,467.59 191.00,466.78 192.50,465.95 194.00,465.11 195.50,464.26 197.00,463.40 198.50,462.53 200.00,461.65 201.50,460.75 203.00,459.85 204.50,458.94 206.00,458.02 207.50,457.10 209.00,456.16 210.50,455.21 212.00,454.26 213.50,453.30 215.00,452.33 216.50,451.35 218.00,450.37 219.50,449.37 221.00,448.38 222.50,447.37 224.00,446.36 225.50,445.34 227.00,444.32 228.50,443.29 230.00,442.25 231.50,441.21 233.00,440.17 234.50,439.12 236.00,438.06 237.50,437.00 239.00,435.94 240.50,434.87 242.00,433.80 243.50,432.73 245.00,431.65 246.50,430.57 248.00,429.48 249.50,428.40 251.00,427.31 252.50,426.22 254.00,425.13 255.50,424.03 257.00,422.93 258.50,421.83 260.00,420.73 261.50,419.62 263.00,418.51 264.50,417.40 266.00,416.28 267.50,415.17 269.00,414.04 270.50,412.92 272.00,411.79 273.50,410.66 275.00,409.52 276.50,408.38 278.00,407.24 279.50,406.09 281.00,404.94 282.50,403.78 284.00,402.62 285.50,401.46 287.00,400.29 288.50,399.12 290.00,397.94 291.50,396.76 293.00,395.57 294.50,394.38 296.00,393.18 297.50,391.98 299.00,390.77 300.50,389.56 302.00,388.34 303.50,387.12 305.00,385.89 306.50,384.66 308.00,383.42 309.50,382.17 311.00,380.92 312.50,379.67 314.00,378.40 315.50,377.13 317.00,375.86 318.50,374.58 320.00,373.29 321.50,371.99 323.00,370.69 324.50,369.38 326.00,368.07 327.50,366.75 329.00,365.42 330.50,364.08 332.00,362.74 333.50,361.39 335.00,360.04 336.50,358.67 338.00,357.30 339.50,355.92 341.00,354.53 342.50,353.14 344.00,351.73 345.50,350.32 347.00,348.90 348.50,347.48 350.00,346.04 351.50,344.60 353.00,343.15 354.50,341.69 356.00,340.22 357.50,338.74 359.00,337.25 360.50,335.76 362.00,334.25 363.50,332.74 365.00,331.22 366.50,329.69 368.00,328.14 369.50,326.59 371.00,325.03 372.50,323.46 374.00,321.88 375.50,320.29 377.00,318.69 378.50,317.07 380.00,315.45 381.50,313.81 383.00,312.16 384.50,310.49 386.00,308.82 387.50,307.13 389.00,305.42 390.50,303.70 392.00,301.97 393.50,300.22 395.00,298.46 396.50,296.68 398.00,294.88 399.50,293.07 401.00,291.25 402.50,289.40 404.00,287.54 405.50,285.67 407.00,283.79 408.50,281.91 410.00,280.02 411.50,278.14 413.00,276.28 414.50,274.42 416.00,272.58 417.50,270.76 419.00,268.97 420.50,267.20 422.00,265.47 423.50,263.78 425.00,262.13 426.50,260.53 428.00,258.98 429.50,257.49 431.00,256.06 432.50,254.69 434.00,253.39 435.50,252.16 437.00,251.02 438.50,249.95 440.00,248.98 441.50,248.09 443.00,247.29 444.50,246.57 446.00,245.93 447.50,245.38 449.00,244.92 450.50,244.53 452.00,244.22 453.50,243.98 455.00,243.83 456.50,243.75 458.00,243.74 459.50,243.81 461.00,243.95 462.50,244.15 464.00,244.43 465.50,244.77 467.00,245.18 468.50,245.66 470.00,246.20 471.50,246.80 473.00,247.46 474.50,248.18 476.00,248.97 477.50,249.80 479.00,250.70 480.50,251.65 482.00,252.65 483.50,253.71 485.00,254.81 486.50,255.97 488.00,257.17 489.50,258.41 491.00,259.69 492.50,261.00 494.00,262.33 495.50,263.70 497.00,265.09 498.50,266.49 500.00,267.91 501.50,269.34 503.00,270.77 504.50,272.21 506.00,273.65 507.50,275.08 509.00,276.51 510.50,277.92 512.00,279.32 513.50,280.69 515.00,282.04 516.50,283.37 518.00,284.66 519.50,285.92 521.00,287.14 522.50,288.32 524.00,289.45 525.50,290.55 527.00,291.60 528.50,292.62 530.00,293.59 531.50,294.53 533.00,295.43 534.50,296.29 536.00,297.11 537.50,297.90 539.00,298.65 540.50,299.36 542.00,300.04 543.50,300.68 545.00,301.28 546.50,301.86 548.00,302.40 549.50,302.90 551.00,303.37 552.50,303.81 554.00,304.22 555.50,304.60 557.00,304.95 558.50,305.27 560.00,305.57 561.50,305.83 563.00,306.07 564.50,306.29 566.00,306.48 567.50,306.65 569.00,306.80 570.50,306.93 572.00,307.03 573.50,307.12 575.00,307.19 576.50,307.24 578.00,307.28 579.50,307.29 581.00,307.30 582.50,307.29 584.00,307.27 585.50,307.24 587.00,307.19 588.50,307.14 590.00,307.07 591.50,307.00 593.00,306.92 594.50,306.83 596.00,306.74 597.50,306.65 599.00,306.55 600.50,306.45 602.00,306.34 603.50,306.24 605.00,306.13 606.50,306.03 608.00,305.93 609.50,305.83 611.00,305.73 612.50,305.64 614.00,305.56 615.50,305.48 617.00,305.41 618.50,305.35 620.00,305.29 621.50,305.25 623.00,305.22 624.50,305.20 626.00,305.19 627.50,305.20 629.00,305.22 630.50,305.26 632.00,305.31 633.50,305.38 635.00,305.46 636.50,305.56 638.00,305.68 639.50,305.81 641.00,305.96 642.50,306.12 644.00,306.30 645.50,306.49 647.00,306.70 648.50,306.92 650.00,307.16 651.50,307.42 653.00,307.69 654.50,307.98 656.00,308.28 657.50,308.60 659.00,308.94 660.50,309.28 662.00,309.65 663.50,310.03 665.00,310.43 666.50,310.84 668.00,311.26 669.50,311.71 671.00,312.17 672.50,312.64 674.00,313.13 675.50,313.63 677.00,314.15 678.50,314.69 680.00,315.24 681.50,315.80 683.00,316.39 684.50,316.98 686.00,317.60 687.50,318.22 689.00,318.87 690.50,319.53 692.00,320.20 693.50,320.89 695.00,321.59 696.50,322.31 698.00,323.05 699.50,323.80 701.00,324.57 702.50,325.35 704.00,326.15 705.50,326.96 707.00,327.78 708.50,328.63 710.00,329.49 711.50,330.36 713.00,331.25 714.50,332.15 716.00,333.07 717.50,334.00 719.00,334.95 720.50,335.92 722.00,336.90 723.50,337.89 725.00,338.90 726.50,339.92 728.00,340.96 729.50,342.00 731.00,343.06 732.50,344.13 734.00,345.21 735.50,346.30 737.00,347.40 738.50,348.51 740.00,349.62 741.50,350.75 743.00,351.88 744.50,353.02 746.00,354.16 747.50,355.31 749.00,356.47 750.50,357.62 752.00,358.79 753.50,359.95 755.00,361.12 756.50,362.29 758.00,363.46 759.50,364.64 761.00,365.81 762.50,366.99 764.00,368.16 765.50,369.33 767.00,370.50 768.50,371.67 770.00,372.83 771.50,373.99 773.00,375.15 774.50,376.30 776.00,377.45 777.50,378.59 779.00,379.73 780.50,380.86 782.00,381.98 783.50,383.09 785.00,384.20 786.50,385.29 788.00,386.38 789.50,387.45 791.00,388.52 792.50,389.57 794.00,390.61 795.50,391.64 797.00,392.66 798.50,393.66 800.00,394.65 801.50,395.63 803.00,396.58 804.50,397.53 806.00,398.45 807.50,399.36 809.00,400.26 810.50,401.13 812.00,401.98 813.50,402.82 815.00,403.64 816.50,404.43 818.00,405.21 819.50,405.97 821.00,406.71 822.50,407.42 824.00,408.13 825.50,408.81 827.00,409.48 828.50,410.12 830.00,410.76 831.50,411.37 833.00,411.97 834.50,412.56 836.00,413.13 837.50,413.68 839.00,414.23 840.50,414.75 842.00,415.27 843.50,415.77 845.00,416.26 846.50,416.74 848.00,417.21 849.50,417.66 851.00,418.10 852.50,418.54 854.00,418.96 855.50,419.38 857.00,419.78 858.50,420.18 860.00,420.57 861.50,420.95 863.00,421.32 864.50,421.69 866.00,422.05 867.50,422.40 869.00,422.75 870.50,423.09 872.00,423.43 873.50,423.76 875.00,424.09 876.50,424.42 878.00,424.74 879.50,425.06 881.00,425.38 882.50,425.69 884.00,426.01 885.50,426.32 887.00,426.63 888.50,426.94 890.00,427.25 891.50,427.56 893.00,427.88 894.50,428.19 896.00,428.51 897.50,428.83 899.00,429.15 900.50,429.47 902.00,429.80 903.50,430.13 905.00,430.46 906.50,430.80 908.00,431.15 909.50,431.50 911.00,431.85 912.50,432.22 914.00,432.59 915.50,432.96 917.00,433.35 918.50,433.74 920.00,434.14 921.50,434.55 923.00,434.97 924.00,435.25"/><path d="M125.00,476.30 126.50,475.11 128.00,473.94 129.50,472.79 131.00,471.66 132.50,470.55 134.00,469.46 135.50,468.39 137.00,467.34 138.50,466.30 140.00,465.29 141.50,464.29 143.00,463.31 144.50,462.34 146.00,461.39 147.50,460.46 149.00,459.55 150.50,458.64 152.00,457.76 153.50,456.89 155.00,456.03 156.50,455.19 158.00,454.36 159.50,453.54 161.00,452.74 162.50,451.95 164.00,451.17 165.50,450.40 167.00,449.65 168.50,448.90 170.00,448.17 171.50,447.44 173.00,446.73 174.50,446.03 176.00,445.33 177.50,444.64 179.00,443.97 180.50,443.30 182.00,442.64 183.50,441.98 185.00,441.33 186.50,440.69 188.00,440.06 189.50,439.43 191.00,438.81 192.50,438.19 194.00,437.58 195.50,436.97 197.00,436.36 198.50,435.76 200.00,435.16 201.50,434.57 203.00,433.98 204.50,433.39 206.00,432.80 207.50,432.22 209.00,431.63 210.50,431.05 212.00,430.46 213.50,429.88 215.00,429.29 216.50,428.71 218.00,428.12 219.50,427.54 221.00,426.95 222.50,426.36 224.00,425.77 225.50,425.17 227.00,424.57 228.50,423.97 230.00,423.36 231.50,422.75 233.00,422.13 234.50,421.51 236.00,420.89 237.50,420.26 239.00,419.62 240.50,418.97 242.00,418.32 243.50,417.66 245.00,417.00 246.50,416.32 248.00,415.64 249.50,414.95 251.00,414.25 252.50,413.54 254.00,412.82 255.50,412.09 257.00,411.35 258.50,410.60 260.00,409.84 261.50,409.07 263.00,408.28 264.50,407.48 266.00,406.67 267.50,405.85 269.00,405.01 270.50,404.16 272.00,403.30 273.50,402.42 275.00,401.53 276.50,400.63 278.00,399.72 279.50,398.79 281.00,397.86 282.50,396.91 284.00,395.95 285.50,394.98 287.00,394.00 288.50,393.01 290.00,392.01 291.50,391.00 293.00,389.98 294.50,388.96 296.00,387.92 297.50,386.87 299.00,385.82 300.50,384.76 302.00,383.69 303.50,382.62 305.00,381.53 306.50,380.44 308.00,379.35 309.50,378.25 311.00,377.14 312.50,376.02 314.00,374.90 315.50,373.78 317.00,372.65 318.50,371.52 320.00,370.38 321.50,369.24 323.00,368.09 324.50,366.94 326.00,365.79 327.50,364.64 329.00,363.48 330.50,362.32 332.00,361.16 333.50,359.99 335.00,358.83 336.50,357.66 338.00,356.50 339.50,355.33 341.00,354.16 342.50,352.99 344.00,351.82 345.50,350.66 347.00,349.49 348.50,348.32 350.00,347.16 351.50,346.00 353.00,344.84 354.50,343.68 356.00,342.52 357.50,341.37 359.00,340.22 360.50,339.07 362.00,337.93 363.50,336.79 365.00,335.66 366.50,334.52 368.00,333.40 369.50,332.28 371.00,331.16 372.50,330.05 374.00,328.95 375.50,327.85 377.00,326.76 378.50,325.67 380.00,324.59 381.50,323.52 383.00,322.46 384.50,321.40 386.00,320.35 387.50,319.31 389.00,318.28 390.50,317.26 392.00,316.25 393.50,315.25 395.00,314.27 396.50,313.29 398.00,312.33 399.50,311.39 401.00,310.45 402.50,309.54 404.00,308.64 405.50,307.75 407.00,306.89 408.50,306.04 410.00,305.21 411.50,304.41 413.00,303.62 414.50,302.85 416.00,302.11 417.50,301.39 419.00,300.69 420.50,300.01 422.00,299.36 423.50,298.74 425.00,298.14 426.50,297.57 428.00,297.03 429.50,296.51 431.00,296.03 432.50,295.57 434.00,295.15 435.50,294.75 437.00,294.39 438.50,294.06 440.00,293.76 441.50,293.50 443.00,293.27 444.50,293.08 446.00,292.92 447.50,292.81 449.00,292.72 450.50,292.68 452.00,292.68 453.50,292.71 455.00,292.79 456.50,292.90 458.00,293.06 459.50,293.26 461.00,293.51 462.50,293.80 464.00,294.13 465.50,294.51 467.00,294.94 468.50,295.41 470.00,295.93 471.50,296.49 473.00,297.11 474.50,297.78 476.00,298.49 477.50,299.24 479.00,300.04 480.50,300.87 482.00,301.74 483.50,302.65 485.00,303.59 486.50,304.55 488.00,305.55 489.50,306.57 491.00,307.61 492.50,308.67 494.00,309.74 495.50,310.84 497.00,311.94 498.50,313.06 500.00,314.18 501.50,315.31 503.00,316.44 504.50,317.57 506.00,318.70 507.50,319.83 509.00,320.96 510.50,322.07 512.00,323.19 513.50,324.29 515.00,325.38 516.50,326.47 518.00,327.54 519.50,328.61 521.00,329.65 522.50,330.69 524.00,331.71 525.50,332.71 527.00,333.70 528.50,334.66 530.00,335.61 531.50,336.53 533.00,337.44 534.50,338.32 536.00,339.18 537.50,340.01 539.00,340.83 540.50,341.63 542.00,342.40 543.50,343.15 545.00,343.89 546.50,344.60 548.00,345.30 549.50,345.98 551.00,346.64 552.50,347.28 554.00,347.91 555.50,348.51 557.00,349.11 558.50,349.68 560.00,350.24 561.50,350.79 563.00,351.32 564.50,351.83 566.00,352.33 567.50,352.82 569.00,353.30 570.50,353.76 572.00,354.21 573.50,354.65 575.00,355.07 576.50,355.49 578.00,355.89 579.50,356.29 581.00,356.67 582.50,357.04 584.00,357.41 585.50,357.77 587.00,358.12 588.50,358.46 590.00,358.79 591.50,359.12 593.00,359.44 594.50,359.75 596.00,360.06 597.50,360.36 599.00,360.65 600.50,360.95 602.00,361.24 603.50,361.52 605.00,361.80 606.50,362.08 608.00,362.35 609.50,362.63 611.00,362.90 612.50,363.17 614.00,363.44 615.50,363.70 617.00,363.97 618.50,364.23 620.00,364.49 621.50,364.75 623.00,365.01 624.50,365.26 626.00,365.52 627.50,365.78 629.00,366.03 630.50,366.28 632.00,366.54 633.50,366.79 635.00,367.04 636.50,367.29 638.00,367.54 639.50,367.79 641.00,368.04 642.50,368.29 644.00,368.54 645.50,368.79 647.00,369.04 648.50,369.29 650.00,369.54 651.50,369.79 653.00,370.04 654.50,370.30 656.00,370.55 657.50,370.80 659.00,371.06 660.50,371.32 662.00,371.57 663.50,371.83 665.00,372.09 666.50,372.35 668.00,372.61 669.50,372.88 671.00,373.14 672.50,373.41 674.00,373.68 675.50,373.95 677.00,374.22 678.50,374.50 680.00,374.78 681.50,375.06 683.00,375.34 684.50,375.62 686.00,375.91 687.50,376.20 689.00,376.49 690.50,376.79 692.00,377.09 693.50,377.39 695.00,377.69 696.50,378.00 698.00,378.31 699.50,378.62 701.00,378.93 702.50,379.25 704.00,379.57 705.50,379.89 707.00,380.21 708.50,380.54 710.00,380.87 711.50,381.20 713.00,381.53 714.50,381.87 716.00,382.20 717.50,382.54 719.00,382.89 720.50,383.23 722.00,383.58 723.50,383.93 725.00,384.28 726.50,384.63 728.00,384.99 729.50,385.35 731.00,385.71 732.50,386.07 734.00,386.44 735.50,386.81 737.00,387.18 738.50,387.55 740.00,387.92 741.50,388.30 743.00,388.67 744.50,389.05 746.00,389.43 747.50,389.82 749.00,390.20 750.50,390.59 752.00,390.98 753.50,391.37 755.00,391.77 756.50,392.16 758.00,392.56 759.50,392.96 761.00,393.36 762.50,393.76 764.00,394.16 765.50,394.57 767.00,394.98 768.50,395.39 770.00,395.80 771.50,396.21 773.00,396.63 774.50,397.04 776.00,397.46 777.50,397.88 779.00,398.30 780.50,398.72 782.00,399.14 783.50,399.57 785.00,399.99 786.50,400.42 788.00,400.85 789.50,401.27 791.00,401.70 792.50,402.13 794.00,402.57 795.50,403.00 797.00,403.43 798.50,403.86 800.00,404.30 801.50,404.74 803.00,405.17 804.50,405.61 806.00,406.05 807.50,406.48 809.00,406.92 810.50,407.36 812.00,407.80 813.50,408.24 815.00,408.68 816.50,409.12 818.00,409.56 819.50,410.00 821.00,410.44 822.50,410.88 824.00,411.32 825.50,411.76 827.00,412.20 828.50,412.65 830.00,413.09 831.50,413.53 833.00,413.97 834.50,414.41 836.00,414.85 837.50,415.28 839.00,415.72 840.50,416.16 842.00,416.60 843.50,417.03 845.00,417.46 846.50,417.90 848.00,418.33 849.50,418.76 851.00,419.18 852.50,419.61 854.00,420.03 855.50,420.45 857.00,420.87 858.50,421.28 860.00,421.70 861.50,422.11 863.00,422.51 864.50,422.92 866.00,423.32 867.50,423.72 869.00,424.11 870.50,424.50 872.00,424.88 873.50,425.27 875.00,425.64 876.50,426.02 878.00,426.39 879.50,426.75 881.00,427.11 882.50,427.47 884.00,427.82 885.50,428.16 887.00,428.50 888.50,428.84 890.00,429.16 891.50,429.49 893.00,429.81 894.50,430.12 896.00,430.42 897.50,430.72 899.00,431.01 900.50,431.30 902.00,431.58 903.50,431.85 905.00,432.12 906.50,432.38 908.00,432.63 909.50,432.87 911.00,433.11 912.50,433.34 914.00,433.56 915.50,433.77 917.00,433.98 918.50,434.18 920.00,434.37 921.50,434.55 923.00,434.72 924.00,434.83"/><path d="M125.00,523.38 126.50,523.67 128.00,523.91 129.50,524.13 131.00,524.31 132.50,524.45 134.00,524.56 135.50,524.64 137.00,524.68 138.50,524.69 140.00,524.67 141.50,524.62 143.00,524.53 144.50,524.42 146.00,524.27 147.50,524.09 149.00,523.89 150.50,523.65 152.00,523.38 153.50,523.09 155.00,522.76 156.50,522.41 158.00,522.03 159.50,521.62 161.00,521.18 162.50,520.72 164.00,520.23 165.50,519.71 167.00,519.17 168.50,518.60 170.00,518.01 171.50,517.39 173.00,516.75 174.50,516.08 176.00,515.39 177.50,514.68 179.00,513.94 180.50,513.18 182.00,512.40 183.50,511.60 185.00,510.77 186.50,509.93 188.00,509.06 189.50,508.17 191.00,507.27 192.50,506.34 194.00,505.39 195.50,504.43 197.00,503.44 198.50,502.44 200.00,501.42 201.50,500.38 203.00,499.32 204.50,498.25 206.00,497.16 207.50,496.05 209.00,494.93 210.50,493.80 212.00,492.64 213.50,491.48 215.00,490.30 216.50,489.10 218.00,487.89 219.50,486.67 221.00,485.43 222.50,484.19 224.00,482.93 225.50,481.65 227.00,480.37 228.50,479.08 230.00,477.77 231.50,476.45 233.00,475.13 234.50,473.79 236.00,472.45 237.50,471.09 239.00,469.73 240.50,468.36 242.00,466.98 243.50,465.59 245.00,464.20 246.50,462.80 248.00,461.39 249.50,459.98 251.00,458.56 252.50,457.14 254.00,455.71 255.50,454.28 257.00,452.84 258.50,451.40 260.00,449.95 261.50,448.51 263.00,447.06 264.50,445.60 266.00,444.15 267.50,442.69 269.00,441.24 270.50,439.78 272.00,438.32 273.50,436.86 275.00,435.40 276.50,433.95 278.00,432.49 279.50,431.04 281.00,429.58 282.50,428.13 284.00,426.68 285.50,425.24 287.00,423.80 288.50,422.36 290.00,420.92 291.50,419.49 293.00,418.07 294.50,416.65 296.00,415.23 297.50,413.82 299.00,412.42 300.50,411.02 302.00,409.63 303.50,408.25 305.00,406.88 306.50,405.51 308.00,404.16 309.50,402.81 311.00,401.47 312.50,400.14 314.00,398.82 315.50,397.51 317.00,396.22 318.50,394.93 320.00,393.66 321.50,392.39 323.00,391.15 324.50,389.91 326.00,388.69 327.50,387.48 329.00,386.29 330.50,385.11 332.00,383.94 333.50,382.79 335.00,381.66 336.50,380.55 338.00,379.45 339.50,378.37 341.00,377.30 342.50,376.26 344.00,375.23 345.50,374.22 347.00,373.23 348.50,372.27 350.00,371.32 351.50,370.39 353.00,369.48 354.50,368.60 356.00,367.73 357.50,366.89 359.00,366.08 360.50,365.28 362.00,364.51 363.50,363.76 365.00,363.04 366.50,362.33 368.00,361.66 369.50,361.00 371.00,360.37 372.50,359.76 374.00,359.17 375.50,358.60 377.00,358.06 378.50,357.54 380.00,357.04 381.50,356.56 383.00,356.11 384.50,355.67 386.00,355.26 387.50,354.87 389.00,354.50 390.50,354.15 392.00,353.82 393.50,353.52 395.00,353.23 396.50,352.97 398.00,352.73 399.50,352.50 401.00,352.30 402.50,352.12 404.00,351.96 405.50,351.82 407.00,351.69 408.50,351.59 410.00,351.51 411.50,351.45 413.00,351.41 414.50,351.38 416.00,351.38 417.50,351.39 419.00,351.43 420.50,351.48 422.00,351.55 423.50,351.64 425.00,351.75 426.50,351.88 428.00,352.03 429.50,352.19 431.00,352.38 432.50,352.58 434.00,352.79 435.50,353.03 437.00,353.28 438.50,353.55 440.00,353.83 441.50,354.13 443.00,354.44 444.50,354.77 446.00,355.11 447.50,355.47 449.00,355.83 450.50,356.21 452.00,356.60 453.50,357.01 455.00,357.42 456.50,357.84 458.00,358.28 459.50,358.72 461.00,359.17 462.50,359.63 464.00,360.10 465.50,360.58 467.00,361.06 468.50,361.55 470.00,362.05 471.50,362.55 473.00,363.06 474.50,363.57 476.00,364.09 477.50,364.61 479.00,365.13 480.50,365.66 482.00,366.19 483.50,366.72 485.00,367.25 486.50,367.78 488.00,368.32 489.50,368.85 491.00,369.39 492.50,369.92 494.00,370.45 495.50,370.99 497.00,371.51 498.50,372.04 500.00,372.56 501.50,373.08 503.00,373.60 504.50,374.11 506.00,374.61 507.50,375.11 509.00,375.61 510.50,376.10 512.00,376.58 513.50,377.07 515.00,377.54 516.50,378.01 518.00,378.48 519.50,378.94 521.00,379.40 522.50,379.85 524.00,380.30 525.50,380.74 527.00,381.18 528.50,381.62 530.00,382.05 531.50,382.48 533.00,382.90 534.50,383.32 536.00,383.73 537.50,384.14 539.00,384.55 540.50,384.95 542.00,385.35 543.50,385.75 545.00,386.14 546.50,386.53 548.00,386.92 549.50,387.30 551.00,387.68 552.50,388.05 554.00,388.42 555.50,388.79 557.00,389.16 558.50,389.52 560.00,389.88 561.50,390.24 563.00,390.59 564.50,390.95 566.00,391.29 567.50,391.64 569.00,391.98 570.50,392.32 572.00,392.66 573.50,393.00 575.00,393.33 576.50,393.66 578.00,393.99 579.50,394.32 581.00,394.64 582.50,394.97 584.00,395.29 585.50,395.60 587.00,395.92 588.50,396.24 590.00,396.55 591.50,396.86 593.00,397.17 594.50,397.48 596.00,397.79 597.50,398.09 599.00,398.39 600.50,398.70 602.00,399.00 603.50,399.30 605.00,399.60 606.50,399.89 608.00,400.19 609.50,400.49 611.00,400.78 612.50,401.08 614.00,401.37 615.50,401.66 617.00,401.95 618.50,402.24 620.00,402.53 621.50,402.82 623.00,403.11 624.50,403.40 626.00,403.69 627.50,403.98 629.00,404.27 630.50,404.56 632.00,404.85 633.50,405.14 635.00,405.42 636.50,405.71 638.00,406.00 639.50,406.29 641.00,406.58 642.50,406.87 644.00,407.16 645.50,407.45 647.00,407.74 648.50,408.03 650.00,408.33 651.50,408.62 653.00,408.91 654.50,409.21 656.00,409.50 657.50,409.80 659.00,410.10 660.50,410.39 662.00,410.69 663.50,410.99 665.00,411.28 666.50,411.58 668.00,411.88 669.50,412.17 671.00,412.47 672.50,412.77 674.00,413.06 675.50,413.36 677.00,413.65 678.50,413.95 680.00,414.24 681.50,414.53 683.00,414.83 684.50,415.12 686.00,415.41 687.50,415.70 689.00,415.98 690.50,416.27 692.00,416.55 693.50,416.84 695.00,417.12 696.50,417.40 698.00,417.67 699.50,417.95 701.00,418.22 702.50,418.50 704.00,418.77 705.50,419.03 707.00,419.30 708.50,419.56 710.00,419.82 711.50,420.08 713.00,420.34 714.50,420.59 716.00,420.84 717.50,421.09 719.00,421.34 720.50,421.58 722.00,421.82 723.50,422.06 725.00,422.30 726.50,422.54 728.00,422.77 729.50,423.00 731.00,423.23 732.50,423.46 734.00,423.68 735.50,423.90 737.00,424.12 738.50,424.34 740.00,424.56 741.50,424.78 743.00,424.99 744.50,425.20 746.00,425.41 747.50,425.62 749.00,425.82 750.50,426.03 752.00,426.23 753.50,426.43 755.00,426.63 756.50,426.83 758.00,427.02 759.50,427.21 761.00,427.41 762.50,427.60 764.00,427.79 765.50,427.97 767.00,428.16 768.50,428.35 770.00,428.53 771.50,428.71 773.00,428.89 774.50,429.07 776.00,429.25 777.50,429.42 779.00,429.60 780.50,429.77 782.00,429.94 783.50,430.12 785.00,430.29 786.50,430.45 788.00,430.62 789.50,430.79 791.00,430.95 792.50,431.12 794.00,431.28 795.50,431.44 797.00,431.60 798.50,431.76 800.00,431.92 801.50,432.08 803.00,432.24 804.50,432.40 806.00,432.55 807.50,432.71 809.00,432.86 810.50,433.01 812.00,433.17 813.50,433.32 815.00,433.47 816.50,433.62 818.00,433.77 819.50,433.92 821.00,434.06 822.50,434.21 824.00,434.36 825.50,434.51 827.00,434.65 828.50,434.80 830.00,434.94 831.50,435.09 833.00,435.23 834.50,435.37 836.00,435.52 837.50,435.66 839.00,435.80 840.50,435.95 842.00,436.09 843.50,436.23 845.00,436.37 846.50,436.51 848.00,436.65 849.50,436.79 851.00,436.93 852.50,437.08 854.00,437.22 855.50,437.36 857.00,437.50 858.50,437.64 860.00,437.78 861.50,437.92 863.00,438.06 864.50,438.20 866.00,438.34 867.50,438.48 869.00,438.62 870.50,438.76 872.00,438.91 873.50,439.05 875.00,439.19 876.50,439.33 878.00,439.47 879.50,439.62 881.00,439.76 882.50,439.90 884.00,440.05 885.50,440.19 887.00,440.34 888.50,440.48 890.00,440.63 891.50,440.78 893.00,440.92 894.50,441.07 896.00,441.22 897.50,441.37 899.00,441.52 900.50,441.67 902.00,441.82 903.50,441.97 905.00,442.12 906.50,442.27 908.00,442.43 909.50,442.58 911.00,442.74 912.50,442.89 914.00,443.05 915.50,443.21 917.00,443.37 918.50,443.53 920.00,443.69 921.50,443.85 923.00,444.02 924.00,444.12"/></g>
<path d="M538.70,69.74 538.73,71.08 538.79,72.43 538.85,73.80 538.94,75.18 539.04,76.58 539.15,77.98 539.28,79.40 539.42,80.82 539.58,82.26 539.74,83.71 539.91,85.17 540.10,86.63 540.29,88.11 540.49,89.59 540.70,91.08 540.91,92.58 541.13,94.09 541.35,95.60 541.58,97.12 541.81,98.64 542.04,100.17 542.27,101.70 542.50,103.24 542.72,104.78 542.95,106.33 543.17,107.87 543.39,109.43 543.61,110.98 543.82,112.53 544.02,114.09 544.21,115.64 544.40,117.20 544.58,118.76 544.75,120.31 544.90,121.87 545.05,123.42 545.18,124.97 545.30,126.52 545.40,128.07 545.49,129.61 545.56,131.15 545.62,132.69 545.66,134.22 545.67,135.75 545.67,137.27 545.65,138.78 545.61,140.29 545.54,141.80 545.45,143.29 545.34,144.78 545.20,146.26 545.03,147.73 544.84,149.19 544.62,150.64 544.37,152.09 544.10,153.52 543.79,154.94 543.45,156.35 543.09,157.75 542.69,159.14 542.27,160.52 541.82,161.89 541.34,163.25 540.83,164.59 540.29,165.92 539.73,167.24 539.14,168.55 538.53,169.85 537.89,171.13 537.22,172.40 536.53,173.66 535.81,174.91 535.07,176.14 534.30,177.36 533.51,178.57 532.70,179.76 531.86,180.94 531.00,182.11 530.11,183.26 529.20,184.40 528.27,185.52 527.32,186.63 526.35,187.73 525.35,188.81 524.34,189.88 523.30,190.93 522.24,191.96 521.16,192.98 520.06,193.99 518.95,194.98 517.81,195.96 516.66,196.92 515.49,197.87 514.30,198.81 513.10,199.74 511.89,200.65 510.66,201.56 509.43,202.46 508.18,203.36 506.92,204.24 505.66,205.12 504.39,206.00 503.11,206.87 501.82,207.74 500.53,208.60 499.24,209.47 497.95,210.33 496.65,211.20 495.36,212.06 494.06,212.93 492.77,213.80 491.48,214.67 490.19,215.55 488.91,216.44 487.63,217.33 486.36,218.22 485.10,219.13 483.85,220.04 482.61,220.96 481.38,221.90 480.17,222.84 478.97,223.80 477.79,224.76 476.62,225.75 475.47,226.74 474.34,227.76 473.23,228.79 472.14,229.83 471.07,230.90 470.03,231.98 469.01,233.07 468.01,234.18 467.03,235.31 466.07,236.45 465.14,237.61 464.23,238.78 463.34,239.97 462.48,241.17 461.64,242.38 460.82,243.60 460.02,244.84 459.25,246.08 458.50,247.34 457.77,248.61 457.07,249.89 456.39,251.18 455.73,252.48 455.10,253.78 454.49,255.10 453.91,256.42 453.34,257.75 452.81,259.09 452.29,260.44 451.79,261.79 451.32,263.15 450.86,264.51 450.41,265.87 449.98,267.25 449.55,268.62 449.14,270.00 448.73,271.38 448.33,272.77 447.93,274.16 447.53,275.54 447.13,276.93 446.73,278.33 446.32,279.72 445.91,281.11 445.48,282.50 445.05,283.89 444.61,285.28 444.16,286.67 443.70,288.05 443.23,289.43 442.75,290.81 442.26,292.19 441.76,293.56 441.24,294.92 440.71,296.28 440.17,297.64 439.62,298.99 439.04,300.33 438.46,301.66 437.86,302.99 437.24,304.31 436.60,305.62 435.95,306.92 435.28,308.21 434.60,309.49 433.89,310.76 433.16,312.02 432.42,313.26 431.65,314.50 430.87,315.72 430.06,316.93 429.23,318.12 428.38,319.30 427.50,320.47 426.61,321.62 425.68,322.76 424.74,323.88 423.77,324.98 422.77,326.07 421.75,327.13 420.70,328.19 419.62,329.22 418.51,330.23 417.38,331.23 416.23,332.20 415.05,333.17 413.85,334.12 412.64,335.05 411.40,335.98 410.15,336.89 408.89,337.80 407.61,338.69 406.32,339.58 405.03,340.46 403.72,341.34 402.41,342.22 401.10,343.09 399.78,343.96 398.46,344.83 397.15,345.70 395.83,346.58 394.53,347.45 393.22,348.34 391.93,349.23 390.64,350.12 389.37,351.03 388.11,351.94 386.86,352.86 385.63,353.79 384.41,354.74 383.22,355.70 382.05,356.67 380.90,357.65 379.77,358.65 378.68,359.66 377.61,360.69 376.57,361.73 375.56,362.79 374.58,363.87 373.64,364.97 372.73,366.09 371.86,367.22 371.03,368.38 370.23,369.55 369.47,370.75 368.74,371.96 368.05,373.18 367.38,374.43 366.75,375.69 366.15,376.96 365.57,378.25 365.03,379.56 364.52,380.87 364.03,382.21 363.57,383.55 363.13,384.91 362.72,386.28 362.34,387.66 361.98,389.05 361.64,390.46 361.32,391.87 361.03,393.29 360.76,394.72 360.50,396.16 360.27,397.61 360.05,399.07 359.85,400.53 359.67,402.00 359.50,403.48 359.35,404.96 359.21,406.45 359.08,407.94 358.97,409.44 358.86,410.94 358.77,412.44 358.68,413.94 358.60,415.45 358.52,416.96 358.45,418.47 358.38,419.98 358.31,421.49 358.25,423.01 358.18,424.52 358.12,426.03 358.06,427.55 358.01,429.06 357.95,430.57 357.90,432.09 357.85,433.60 357.80,435.12 357.75,436.63 357.71,438.15 357.67,439.66 357.62,441.18 357.58,442.70 357.55,444.21 357.51,445.73 357.47,447.24 357.44,448.76 357.41,450.28 357.38,451.79 357.35,453.31 357.32,454.83 357.29,456.34 357.26,457.86 357.24,459.38 357.22,460.89 357.19,462.41 357.17,463.93 357.15,465.44 357.13,466.96 357.12,468.48 357.10,469.99 357.08,471.51 357.07,473.02 357.05,474.54 357.04,476.05 357.02,477.57 357.01,479.08 357.00,480.60 356.99,482.11 356.97,483.63 356.96,485.14 356.95,486.65 356.94,488.17 356.93,489.68 356.92,491.19 356.92,492.70 356.91,494.22 356.90,495.73 356.89,497.24 356.88,498.75 356.87,500.26 356.86,501.77 356.86,503.27 356.85,504.78 356.84,506.29 356.83,507.80 356.82,509.30 356.81,510.81 356.80,512.31 356.79,513.82 356.78,515.32 356.77,516.82 356.76,518.33 356.75,519.83 356.74,521.33 356.72,522.83 356.71,524.33 356.70,525.83 356.68,527.32 356.67,528.82 356.65,530.32 356.63,531.81 356.61,533.31 356.59,534.80 356.57,536.29 356.55,537.78 356.53,539.27 356.51,540.76 356.48,542.25 356.46,543.74 356.43,545.23 356.40,546.71 356.37,548.20 356.34,549.68 356.31,551.16 356.28,552.64 356.24,554.12 356.21,555.60 356.17,557.08 356.13,558.56 356.09,560.03 356.04,561.51 356.00,562.98 355.95,564.45 355.90,565.92 355.85,567.39 355.80,568.86 355.79,569.29" fill="none" stroke="#0b519f" stroke-width="3" stroke-dasharray="4 7.62" stroke-dashoffset="9.03" stroke-linecap="round"/>
<path d="M545.5,150.2 L542.8,136.2 L550.2,136.7 Z" fill="#0b519f"/><path d="M485.2,220.6 L492.6,209.2 L497.7,215.2 Z" fill="#0b519f"/><path d="M433.6,311.4 L437.8,298.0 L444.3,302.3 Z" fill="#0b519f"/><path d="M359.4,403.2 L357.9,387.8 L365.4,388.9 Z" fill="#0b519f"/><path d="M356.5,510.3 L353.4,495.7 L360.8,496.0 Z" fill="#0b519f"/>
<g stroke="#000" stroke-width="2" fill="none">
<rect x="125" y="0.8" width="798.5" height="568.7"/>
<line x1="191.6" y1="569.5" x2="191.6" y2="564.0"/><line x1="191.6" y1="0" x2="191.6" y2="6.5"/><line x1="258.1" y1="569.5" x2="258.1" y2="559.5"/><line x1="258.1" y1="0" x2="258.1" y2="11.0"/><line x1="324.6" y1="569.5" x2="324.6" y2="564.0"/><line x1="324.6" y1="0" x2="324.6" y2="6.5"/><line x1="391.2" y1="569.5" x2="391.2" y2="559.5"/><line x1="391.2" y1="0" x2="391.2" y2="11.0"/><line x1="457.8" y1="569.5" x2="457.8" y2="564.0"/><line x1="457.8" y1="0" x2="457.8" y2="6.5"/><line x1="524.3" y1="569.5" x2="524.3" y2="559.5"/><line x1="524.3" y1="0" x2="524.3" y2="11.0"/><line x1="590.9" y1="569.5" x2="590.9" y2="564.0"/><line x1="590.9" y1="0" x2="590.9" y2="6.5"/><line x1="657.4" y1="569.5" x2="657.4" y2="559.5"/><line x1="657.4" y1="0" x2="657.4" y2="11.0"/><line x1="724.0" y1="569.5" x2="724.0" y2="564.0"/><line x1="724.0" y1="0" x2="724.0" y2="6.5"/><line x1="790.5" y1="569.5" x2="790.5" y2="559.5"/><line x1="790.5" y1="0" x2="790.5" y2="11.0"/><line x1="857.1" y1="569.5" x2="857.1" y2="564.0"/><line x1="857.1" y1="0" x2="857.1" y2="6.5"/><line x1="125" y1="544.4" x2="135.0" y2="544.4"/><line x1="923.5" y1="544.4" x2="913.5" y2="544.4"/><line x1="125" y1="492.6" x2="130.5" y2="492.6"/><line x1="923.5" y1="492.6" x2="918.0" y2="492.6"/><line x1="125" y1="440.9" x2="135.0" y2="440.9"/><line x1="923.5" y1="440.9" x2="913.5" y2="440.9"/><line x1="125" y1="389.1" x2="130.5" y2="389.1"/><line x1="923.5" y1="389.1" x2="918.0" y2="389.1"/><line x1="125" y1="337.4" x2="135.0" y2="337.4"/><line x1="923.5" y1="337.4" x2="913.5" y2="337.4"/><line x1="125" y1="285.6" x2="130.5" y2="285.6"/><line x1="923.5" y1="285.6" x2="918.0" y2="285.6"/><line x1="125" y1="233.9" x2="135.0" y2="233.9"/><line x1="923.5" y1="233.9" x2="913.5" y2="233.9"/><line x1="125" y1="182.2" x2="130.5" y2="182.2"/><line x1="923.5" y1="182.2" x2="918.0" y2="182.2"/><line x1="125" y1="130.4" x2="135.0" y2="130.4"/><line x1="923.5" y1="130.4" x2="913.5" y2="130.4"/><line x1="125" y1="78.6" x2="130.5" y2="78.6"/><line x1="923.5" y1="78.6" x2="918.0" y2="78.6"/><line x1="125" y1="26.9" x2="135.0" y2="26.9"/><line x1="923.5" y1="26.9" x2="913.5" y2="26.9"/>
</g>
<line x1="127.6" y1="129.8" x2="924" y2="129.8" stroke="#8a8a8a" stroke-width="2.6" stroke-dasharray="4.5 10.88"/>
<path d="M126.00,357.45 127.50,356.96 129.00,356.46 130.50,355.94 132.00,355.40 133.50,354.85 135.00,354.28 136.50,353.70 138.00,353.11 139.50,352.50 141.00,351.88 142.50,351.24 144.00,350.59 145.50,349.93 147.00,349.25 148.50,348.56 150.00,347.85 151.50,347.14 153.00,346.41 154.50,345.67 156.00,344.92 157.50,344.15 159.00,343.37 160.50,342.58 162.00,341.78 163.50,340.97 165.00,340.15 166.50,339.31 168.00,338.47 169.50,337.61 171.00,336.74 172.50,335.87 174.00,334.98 175.50,334.08 177.00,333.17 178.50,332.26 180.00,331.33 181.50,330.40 183.00,329.45 184.50,328.50 186.00,327.53 187.50,326.56 189.00,325.58 190.50,324.60 192.00,323.60 193.50,322.59 195.00,321.58 196.50,320.56 198.00,319.54 199.50,318.50 201.00,317.46 202.50,316.41 204.00,315.36 205.50,314.30 207.00,313.23 208.50,312.15 210.00,311.07 211.50,309.99 213.00,308.89 214.50,307.80 216.00,306.69 217.50,305.59 219.00,304.47 220.50,303.35 222.00,302.23 223.50,301.10 225.00,299.97 226.50,298.84 228.00,297.70 229.50,296.55 231.00,295.41 232.50,294.26 234.00,293.10 235.50,291.95 237.00,290.79 238.50,289.62 240.00,288.46 241.50,287.29 243.00,286.12 244.50,284.95 246.00,283.78 247.50,282.60 249.00,281.42 250.50,280.24 252.00,279.06 253.50,277.88 255.00,276.70 256.50,275.52 258.00,274.34 259.50,273.15 261.00,271.97 262.50,270.79 264.00,269.60 265.50,268.42 267.00,267.24 268.50,266.05 270.00,264.87 271.50,263.69 273.00,262.51 274.50,261.34 276.00,260.16 277.50,258.99 279.00,257.82 280.50,256.65 282.00,255.48 283.50,254.31 285.00,253.15 286.50,251.99 288.00,250.83 289.50,249.68 291.00,248.53 292.50,247.38 294.00,246.23 295.50,245.09 297.00,243.96 298.50,242.83 300.00,241.70 301.50,240.58 303.00,239.46 304.50,238.34 306.00,237.24 307.50,236.13 309.00,235.03 310.50,233.94 312.00,232.85 313.50,231.77 315.00,230.70 316.50,229.63 318.00,228.57 319.50,227.51 321.00,226.46 322.50,225.42 324.00,224.38 325.50,223.36 327.00,222.34 328.50,221.32 330.00,220.32 331.50,219.32 333.00,218.33 334.50,217.35 336.00,216.38 337.50,215.42 339.00,214.46 340.50,213.52 342.00,212.58 343.50,211.65 345.00,210.74 346.50,209.83 348.00,208.93 349.50,208.05 351.00,207.17 352.50,206.31 354.00,205.45 355.50,204.61 357.00,203.78 358.50,202.96 360.00,202.15 361.50,201.35 363.00,200.57 364.50,199.79 366.00,199.04 367.50,198.29 369.00,197.55 370.50,196.83 372.00,196.13 373.50,195.43 375.00,194.75 376.50,194.08 378.00,193.43 379.50,192.79 381.00,192.17 382.50,191.56 384.00,190.97 385.50,190.39 387.00,189.83 388.50,189.28 390.00,188.75 391.50,188.23 393.00,187.73 394.50,187.24 396.00,186.78 397.50,186.33 399.00,185.89 400.50,185.48 402.00,185.08 403.50,184.69 405.00,184.33 406.50,183.98 408.00,183.65 409.50,183.34 411.00,183.05 412.50,182.78 414.00,182.53 415.50,182.29 417.00,182.08 418.50,181.88 420.00,181.70 421.50,181.55 423.00,181.41 424.50,181.29 426.00,181.20 427.50,181.12 429.00,181.07 430.50,181.04 432.00,181.02 433.50,181.03 435.00,181.06 436.50,181.12 438.00,181.19 439.50,181.29 441.00,181.41 442.50,181.55 444.00,181.72 445.50,181.91 447.00,182.12 448.50,182.35 450.00,182.61 451.50,182.89 453.00,183.20 454.50,183.52 456.00,183.87 457.50,184.25 459.00,184.64 460.50,185.06 462.00,185.50 463.50,185.96 465.00,186.45 466.50,186.96 468.00,187.49 469.50,188.05 471.00,188.62 472.50,189.22 474.00,189.84 475.50,190.49 477.00,191.16 478.50,191.85 480.00,192.56 481.50,193.29 483.00,194.05 484.50,194.83 486.00,195.63 487.50,196.45 489.00,197.30 490.50,198.17 492.00,199.06 493.50,199.97 495.00,200.90 496.50,201.86 498.00,202.84 499.50,203.84 501.00,204.86 502.50,205.90 504.00,206.97 505.50,208.06 507.00,209.17 508.50,210.30 510.00,211.45 511.50,212.63 513.00,213.82 514.50,215.04 516.00,216.28 517.50,217.54 519.00,218.83 520.50,220.13 522.00,221.46 523.50,222.80 525.00,224.17 526.50,225.56 528.00,226.98 529.50,228.41 531.00,229.86 532.50,231.34 534.00,232.84 535.50,234.36 537.00,235.90 538.50,237.46 540.00,239.04 541.50,240.64 543.00,242.27 544.50,243.91 546.00,245.58 547.50,247.26 549.00,248.97 550.50,250.69 552.00,252.42 553.50,254.17 555.00,255.92 556.50,257.68 558.00,259.45 559.50,261.22 561.00,263.00 562.50,264.77 564.00,266.54 565.50,268.30 567.00,270.06 568.50,271.81 570.00,273.55 571.50,275.27 573.00,276.98 574.50,278.67 576.00,280.35 577.50,282.00 579.00,283.62 580.50,285.23 582.00,286.80 583.50,288.35 585.00,289.86 586.50,291.34 588.00,292.78 589.50,294.19 591.00,295.55 592.50,296.88 594.00,298.16 595.50,299.39 597.00,300.58 598.50,301.72 600.00,302.82 601.50,303.89 603.00,304.92 604.50,305.92 606.00,306.90 607.50,307.84 609.00,308.77 610.50,309.68 612.00,310.57 613.50,311.44 615.00,312.31 616.50,313.17 618.00,314.03 619.50,314.89 621.00,315.75 622.50,316.61 624.00,317.48 625.50,318.37 627.00,319.27 628.50,320.18 630.00,321.12 631.50,322.08 633.00,323.06 634.50,324.08 636.00,325.13 637.50,326.21 639.00,327.33 640.50,328.48 642.00,329.66 643.50,330.88 645.00,332.12 646.50,333.40 648.00,334.70 649.50,336.03 651.00,337.39 652.50,338.77 654.00,340.17 655.50,341.60 657.00,343.06 658.50,344.53 660.00,346.03 661.50,347.54 663.00,349.08 664.50,350.63 666.00,352.20 667.50,353.78 669.00,355.38 670.50,357.00 672.00,358.62 673.50,360.26 675.00,361.91 676.50,363.58 678.00,365.25 679.50,366.93 681.00,368.61 682.50,370.30 684.00,372.00 685.50,373.70 687.00,375.41 688.50,377.12 690.00,378.83 691.50,380.54 693.00,382.25 694.50,383.95 696.00,385.66 697.50,387.35 699.00,389.04 700.50,390.72 702.00,392.39 703.50,394.05 705.00,395.70 706.50,397.34 708.00,398.95 709.50,400.56 711.00,402.14 712.50,403.71 714.00,405.25 715.50,406.78 717.00,408.28 718.50,409.75 720.00,411.20 721.50,412.63 723.00,414.02 724.50,415.40 726.00,416.75 727.50,418.07 729.00,419.38 730.50,420.65 732.00,421.91 733.50,423.14 735.00,424.36 736.50,425.55 738.00,426.72 739.50,427.86 741.00,428.99 742.50,430.10 744.00,431.19 745.50,432.26 747.00,433.31 748.50,434.34 750.00,435.35 751.50,436.35 753.00,437.33 754.50,438.29 756.00,439.24 757.50,440.17 759.00,441.08 760.50,441.98 762.00,442.86 763.50,443.73 765.00,444.59 766.50,445.43 768.00,446.26 769.50,447.08 771.00,447.88 772.50,448.68 774.00,449.46 775.50,450.23 777.00,450.99 778.50,451.73 780.00,452.47 781.50,453.20 783.00,453.92 784.50,454.63 786.00,455.34 787.50,456.03 789.00,456.72 790.50,457.40 792.00,458.07 793.50,458.74 795.00,459.40 796.50,460.05 798.00,460.71 799.50,461.35 801.00,461.99 802.50,462.63 804.00,463.26 805.50,463.89 807.00,464.52 808.50,465.15 810.00,465.77 811.50,466.39 813.00,467.01 814.50,467.64 816.00,468.26 817.50,468.88 819.00,469.50 820.50,470.12 822.00,470.74 823.50,471.36 825.00,471.99 826.50,472.62 828.00,473.25 829.50,473.89 831.00,474.52 832.50,475.16 834.00,475.80 835.50,476.44 837.00,477.08 838.50,477.72 840.00,478.36 841.50,479.00 843.00,479.64 844.50,480.27 846.00,480.91 847.50,481.54 849.00,482.16 850.50,482.79 852.00,483.41 853.50,484.02 855.00,484.63 856.50,485.23 858.00,485.83 859.50,486.42 861.00,487.00 862.50,487.58 864.00,488.14 865.50,488.70 867.00,489.25 868.50,489.80 870.00,490.33 871.50,490.85 873.00,491.36 874.50,491.86 876.00,492.34 877.50,492.82 879.00,493.28 880.50,493.73 882.00,494.16 883.50,494.59 885.00,494.99 886.50,495.39 888.00,495.76 889.50,496.12 891.00,496.47 892.50,496.80 894.00,497.11 895.50,497.40 897.00,497.67 898.50,497.93 900.00,498.17 901.50,498.39 903.00,498.58 904.50,498.76 906.00,498.92 907.50,499.05 909.00,499.16 910.50,499.25 912.00,499.32 913.50,499.37 915.00,499.39 916.50,499.38 918.00,499.36 919.50,499.30 921.00,499.22 922.50,499.12 924.00,498.99 925.50,498.83 927.00,498.64 928.50,498.43 930.00,498.19" fill="none" stroke="#ff0000" stroke-width="6.3" stroke-dasharray="6 18.45" stroke-dashoffset="0.38" stroke-linecap="round"/>
<g fill="#000" font-size="32px"><text transform="translate(126.2,606) scale(0.93,1)" text-anchor="middle">20</text><text transform="translate(258.1,606) scale(0.93,1)" text-anchor="middle">25</text><text transform="translate(391.2,606) scale(0.93,1)" text-anchor="middle">30</text><text transform="translate(524.3,606) scale(0.93,1)" text-anchor="middle">35</text><text transform="translate(657.4,606) scale(0.93,1)" text-anchor="middle">40</text><text transform="translate(790.5,606) scale(0.93,1)" text-anchor="middle">45</text><text transform="translate(857.1,606) scale(0.93,1)" text-anchor="middle">50</text><text transform="translate(113.8,556.5) scale(0.93,1)" text-anchor="end">200</text><text transform="translate(113.8,453.0) scale(0.93,1)" text-anchor="end">400</text><text transform="translate(113.8,349.5) scale(0.93,1)" text-anchor="end">600</text><text transform="translate(113.8,246.0) scale(0.93,1)" text-anchor="end">800</text><text transform="translate(113.8,142.5) scale(0.93,1)" text-anchor="end">1000</text><text transform="translate(113.8,39.0) scale(0.93,1)" text-anchor="end">1200</text></g>
<text x="0" y="0" font-size="29.3px" fill="#000" transform="translate(22.5,431) rotate(-90)">Threshold power (W)</text>
<text x="524" y="649" font-size="29.3px" fill="#000" text-anchor="middle">Core diameter (<tspan font-weight="normal" font-size="31px">&#956;</tspan>m)</text>
<g fill="#808080" font-size="25.5px" text-anchor="middle">
<text x="568.2" y="37">NA</text>
<text x="573.8" y="67.3">0.030</text>
<text x="578.4" y="170.6">0.035</text>
<text x="504.3" y="249.1">0.040</text>
<text x="467.2" y="333.4">0.045</text>
<text x="410.9" y="385.4">0.080</text>
</g>
<g fill="#808080"><rect x="426" y="343" width="3" height="3" transform="rotate(45 427.5 344.5)"/><rect x="419.5" y="350.2" width="3" height="3" transform="rotate(45 421 351.7)"/><rect x="412.3" y="358" width="3" height="3" transform="rotate(45 413.8 359.5)"/></g>
<text x="804.5" y="53.8" font-size="25.2px" fill="#000" text-anchor="middle">Sweet region</text>
<line x1="757" y1="69.4" x2="578" y2="106" stroke="#000" stroke-width="4.5"/>
<path d="M551.2,110.6 L578.2,98.2 L582.6,113 Z" fill="#000"/>
<g fill="#ff0000" font-size="25.2px" text-anchor="middle">
<text x="222.7" y="189">NA=0.030</text>
<text x="222.2" y="219" font-size="25px">with heat load</text>
</g>
<line x1="207.9" y1="230.5" x2="226" y2="268" stroke="#ff0000" stroke-width="4.6"/>
<path d="M235.3,289.6 L216,265.7 L231.2,259.6 Z" fill="#ff0000"/>
<text x="254.4" y="541.8" font-size="38.5px" fill="#6070b8" text-anchor="middle">SBS</text>
<text x="624.5" y="541" font-size="38px" fill="#a89a1a" text-anchor="middle">TMI</text>
</svg>
</body></html>
